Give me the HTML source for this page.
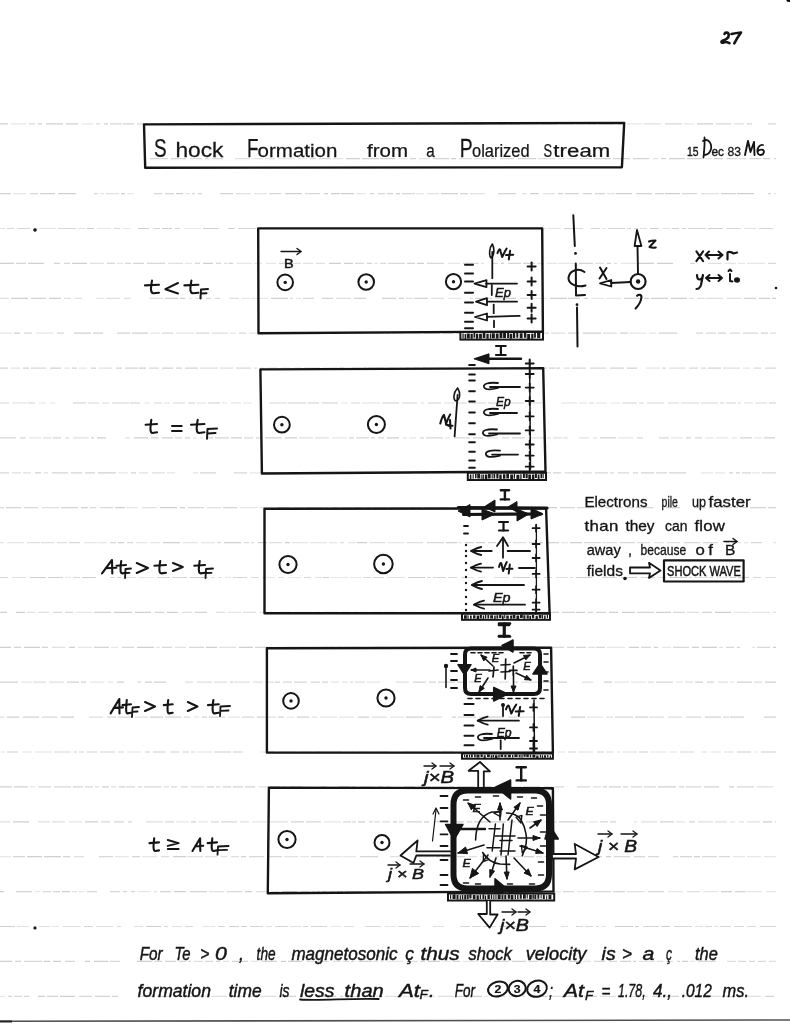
<!DOCTYPE html>
<html><head><meta charset="utf-8"><style>
html,body{margin:0;padding:0;background:#fff;overflow:hidden}
svg{display:block;will-change:transform}
</style></head><body>
<svg width="790" height="1023" viewBox="0 0 790 1023">
<rect width="790" height="1023" fill="#fff"/>
<g stroke-width="1.2" fill="none"><path d="M0,123.8H8M38,123.8H42M46,123.8H63M66,123.8H78M104,123.8H108M201,123.8H206M237,123.8H241M250,123.8H257M330,123.8H343M383,123.8H396M436,123.8H441M450,123.8H468M542,123.8H558M618,123.8H624M697,123.8H713M205,158.7H209M346,158.7H360M362,158.7H379M380,158.7H395M451,158.7H456M594,158.7H611M669,158.7H685M687,158.7H702M714,158.7H723M763,158.7H770M58,193.6H76M121,193.6H125M176,193.6H183M285,193.6H302M324,193.6H328M331,193.6H340M341,193.6H354M396,193.6H400M530,193.6H539M558,193.6H563M616,193.6H632M665,193.6H680M737,193.6H754M87,228.5H94M138,228.5H149M162,228.5H172M203,228.5H219M228,228.5H235M402,228.5H415M492,228.5H502M564,228.5H573M634,228.5H638M650,228.5H659M672,228.5H679M708,228.5H723M0,263.4H14M28,263.4H44M72,263.4H87M203,263.4H213M229,263.4H233M329,263.4H341M344,263.4H353M417,263.4H424M501,263.4H504M607,263.4H611M638,263.4H654M657,263.4H673M11,298.3H28M49,298.3H61M165,298.3H178M180,298.3H185M271,298.3H288M399,298.3H404M506,298.3H516M550,298.3H567M568,298.3H580M584,298.3H588M644,298.3H649M651,298.3H668M671,298.3H687M759,298.3H770M772,298.3H776M14,333.2H20M74,333.2H91M93,333.2H103M132,333.2H148M386,333.2H389M583,333.2H601M23,368.1H29M50,368.1H61M91,368.1H96M139,368.1H146M162,368.1H173M339,368.1H344M368,368.1H384M405,368.1H410M422,368.1H427M505,368.1H517M549,368.1H555M556,368.1H560M627,368.1H637M28,403.0H35M73,403.0H86M130,403.0H140M188,403.0H195M208,403.0H220M288,403.0H306M308,403.0H319M322,403.0H338M382,403.0H399M428,403.0H441M488,403.0H503M720,403.0H724M769,403.0H776M91,437.9H94M97,437.9H106M134,437.9H148M162,437.9H173M185,437.9H190M206,437.9H213M231,437.9H242M285,437.9H297M371,437.9H375M387,437.9H399M35,472.8H41M98,472.8H116M263,472.8H275M321,472.8H339M341,472.8H346M356,472.8H369M385,472.8H394M736,472.8H740M81,507.7H88M115,507.7H125M160,507.7H177M180,507.7H185M409,507.7H421M460,507.7H464M520,507.7H526M544,507.7H557M666,507.7H680M118,542.6H124M163,542.6H180M224,542.6H241M258,542.6H267M285,542.6H290M357,542.6H367M446,542.6H457M476,542.6H485M540,542.6H543M570,542.6H582M30,577.5H46M48,577.5H63M82,577.5H96M117,577.5H121M190,577.5H208M323,577.5H329M408,577.5H425M513,577.5H530M576,577.5H592M621,577.5H637M669,577.5H687M730,577.5H736M738,577.5H749M0,612.4H7M16,612.4H25M114,612.4H132M135,612.4H151M167,612.4H178M279,612.4H291M324,612.4H339M354,612.4H358M541,612.4H559M576,612.4H585M609,612.4H618M622,612.4H635M656,612.4H671M715,612.4H731M0,647.3H11M24,647.3H40M69,647.3H75M137,647.3H154M206,647.3H217M239,647.3H253M375,647.3H385M428,647.3H445M448,647.3H456M515,647.3H520M538,647.3H547M629,647.3H639M654,647.3H658M692,647.3H699M702,647.3H717M773,647.3H776M81,682.2H86M117,682.2H124M154,682.2H166M230,682.2H233M457,682.2H467M513,682.2H518M542,682.2H554M604,682.2H612M765,682.2H776M7,717.1H19M61,717.1H74M150,717.1H163M257,717.1H265M358,717.1H369M406,717.1H423M489,717.1H504M571,717.1H585M7,752.0H18M74,752.0H77M145,752.0H150M153,752.0H166M170,752.0H179M183,752.0H189M214,752.0H231M233,752.0H243M315,752.0H327M329,752.0H342M375,752.0H388M442,752.0H454M489,752.0H500M504,752.0H520M524,752.0H537M597,752.0H604M639,752.0H648M737,752.0H751M761,752.0H776M0,786.9H12M14,786.9H28M102,786.9H109M119,786.9H125M207,786.9H214M223,786.9H231M233,786.9H243M270,786.9H280M339,786.9H350M378,786.9H383M404,786.9H415M449,786.9H454M477,786.9H491M523,786.9H540M603,786.9H607M609,786.9H621M658,786.9H676M729,786.9H734M776,786.9H776M13,821.8H29M85,821.8H98M191,821.8H196M358,821.8H365M393,821.8H397M424,821.8H429M474,821.8H489M491,821.8H506M526,821.8H534M559,821.8H577M763,821.8H772M27,856.7H42M44,856.7H61M173,856.7H186M407,856.7H415M500,856.7H506M524,856.7H534M545,856.7H549M606,856.7H611M694,856.7H700M0,891.6H4M62,891.6H70M174,891.6H186M245,891.6H252M282,891.6H297M337,891.6H343M345,891.6H363M366,891.6H381M385,891.6H399M416,891.6H433M448,891.6H457M497,891.6H503M721,891.6H732M0,926.5H15M33,926.5H37M146,926.5H161M229,926.5H239M241,926.5H247M499,926.5H510M529,926.5H546M615,926.5H633M635,926.5H639M661,926.5H670M0,961.4H12M44,961.4H50M53,961.4H61M85,961.4H90M94,961.4H108M137,961.4H152M216,961.4H220M281,961.4H286M288,961.4H302M428,961.4H440M480,961.4H491M569,961.4H581M682,961.4H688M38,996.3H45M60,996.3H75M331,996.3H336M471,996.3H482M565,996.3H577M584,996.3H597" stroke="#cfcfcf"/><path d="M11,123.8H26M82,123.8H93M151,123.8H165M168,123.8H178M399,123.8H409M430,123.8H434M523,123.8H540M576,123.8H585M627,123.8H642M684,123.8H694M252,158.7H263M278,158.7H295M298,158.7H308M398,158.7H408M558,158.7H566M567,158.7H577M705,158.7H712M13,193.6H26M100,193.6H104M127,193.6H134M185,193.6H190M254,193.6H267M356,193.6H366M416,193.6H424M774,193.6H776M33,228.5H38M97,228.5H111M123,228.5H130M184,228.5H201M294,228.5H308M309,228.5H327M433,228.5H439M466,228.5H477M478,228.5H483M602,228.5H606M117,263.4H123M185,263.4H192M237,263.4H252M254,263.4H262M266,263.4H276M374,263.4H378M448,263.4H460M547,263.4H557M558,263.4H576M621,263.4H636M724,263.4H736M738,263.4H745M747,263.4H765M96,298.3H104M189,298.3H192M195,298.3H203M241,298.3H250M251,298.3H268M296,298.3H301M448,298.3H461M495,298.3H503M532,298.3H547M591,298.3H604M606,298.3H621M0,333.2H12M36,333.2H53M151,333.2H160M176,333.2H194M230,333.2H236M249,333.2H260M392,333.2H406M409,333.2H421M466,333.2H473M531,333.2H537M629,333.2H646M649,333.2H656M64,368.1H70M79,368.1H87M260,368.1H265M352,368.1H361M387,368.1H402M464,368.1H470M472,368.1H484M646,368.1H660M743,368.1H750M39,403.0H46M50,403.0H55M144,403.0H150M222,403.0H227M243,403.0H252M341,403.0H348M611,403.0H620M29,437.9H41M200,437.9H203M332,437.9H347M403,437.9H407M409,437.9H416M445,437.9H450M487,437.9H498M547,437.9H551M593,437.9H597M618,437.9H633M671,437.9H683M705,437.9H714M716,437.9H728M732,437.9H737M754,437.9H762M118,472.8H128M167,472.8H175M250,472.8H261M279,472.8H292M294,472.8H297M300,472.8H304M305,472.8H317M430,472.8H442M454,472.8H461M493,472.8H511M701,472.8H713M715,472.8H725M752,472.8H760M126,507.7H138M240,507.7H258M294,507.7H304M481,507.7H491M501,507.7H505M598,507.7H603M708,507.7H714M0,542.6H4M7,542.6H24M84,542.6H97M98,542.6H107M136,542.6H147M150,542.6H160M183,542.6H198M201,542.6H215M292,542.6H308M310,542.6H327M329,542.6H337M348,542.6H356M388,542.6H404M458,542.6H462M561,542.6H568M654,542.6H664M732,542.6H741M744,542.6H748M773,542.6H776M65,577.5H71M138,577.5H154M225,577.5H231M262,577.5H275M288,577.5H301M331,577.5H348M350,577.5H361M478,577.5H485M717,577.5H728M76,612.4H92M228,612.4H241M259,612.4H276M295,612.4H312M418,612.4H428M734,612.4H750M752,612.4H770M78,647.3H92M111,647.3H118M156,647.3H160M389,647.3H395M410,647.3H424M497,647.3H512M607,647.3H625M662,647.3H671M752,647.3H755M21,682.2H32M90,682.2H104M108,682.2H113M331,682.2H339M342,682.2H348M367,682.2H380M614,682.2H629M631,682.2H646M676,682.2H683M730,682.2H734M194,717.1H199M228,717.1H240M287,717.1H294M320,717.1H337M339,717.1H354M390,717.1H404M538,717.1H553M587,717.1H603M0,752.0H5M22,752.0H32M35,752.0H52M127,752.0H141M197,752.0H212M260,752.0H266M279,752.0H296M300,752.0H312M345,752.0H356M471,752.0H475M479,752.0H485M650,752.0H667M670,752.0H677M711,752.0H721M754,752.0H758M30,786.9H35M282,786.9H286M69,821.8H82M176,821.8H189M198,821.8H208M252,821.8H267M324,821.8H341M517,821.8H523M589,821.8H598M634,821.8H637M676,821.8H685M730,821.8H735M0,856.7H11M115,856.7H129M142,856.7H157M300,856.7H309M326,856.7H342M343,856.7H356M417,856.7H434M480,856.7H492M509,856.7H522M733,856.7H745M747,856.7H761M764,856.7H776M35,891.6H40M79,891.6H84M138,891.6H150M271,891.6H279M312,891.6H315M442,891.6H447M551,891.6H561M577,891.6H590M668,891.6H683M703,891.6H718M747,891.6H762M766,891.6H776M52,926.5H59M202,926.5H215M331,926.5H341M385,926.5H396M601,926.5H606M251,961.4H258M380,961.4H384M387,961.4H403M442,961.4H451M463,961.4H478M583,961.4H591M690,961.4H695M0,996.3H5M307,996.3H310M376,996.3H383M403,996.3H414M424,996.3H435M484,996.3H488M509,996.3H525M642,996.3H648M735,996.3H744" stroke="#e6e6e6"/><path d="M29,123.8H35M96,123.8H100M110,123.8H122M137,123.8H149M281,123.8H285M286,123.8H295M353,123.8H369M371,123.8H380M424,123.8H428M510,123.8H520M561,123.8H574M588,123.8H596M599,123.8H614M665,123.8H682M716,123.8H731M768,123.8H776M190,158.7H202M212,158.7H223M310,158.7H316M319,158.7H331M491,158.7H496M500,158.7H514M580,158.7H592M726,158.7H737M750,158.7H761M774,158.7H776M30,193.6H38M94,193.6H98M154,193.6H162M192,193.6H195M198,193.6H202M269,193.6H281M305,193.6H320M378,193.6H385M402,193.6H415M682,193.6H697M768,193.6H771M58,228.5H76M259,228.5H263M384,228.5H401M443,228.5H447M459,228.5H463M504,228.5H522M575,228.5H583M726,228.5H741M64,263.4H70M107,263.4H115M125,263.4H131M147,263.4H165M195,263.4H200M216,263.4H221M355,263.4H364M380,263.4H386M388,263.4H405M427,263.4H444M463,263.4H479M493,263.4H498M690,263.4H695M768,263.4H776M206,298.3H211M215,298.3H220M290,298.3H293M303,298.3H314M470,298.3H473M24,333.2H32M57,333.2H64M162,333.2H173M196,333.2H209M239,333.2H246M270,333.2H282M285,333.2H291M311,333.2H329M331,333.2H346M456,333.2H463M475,333.2H491M512,333.2H529M540,333.2H549M568,333.2H579M696,333.2H703M706,333.2H716M730,333.2H740M743,333.2H758M31,368.1H46M149,368.1H159M236,368.1H251M363,368.1H367M413,368.1H420M428,368.1H445M520,368.1H533M572,368.1H586M590,368.1H606M662,368.1H666M689,368.1H698M701,368.1H706M754,368.1H761M765,368.1H776M0,403.0H9M88,403.0H99M102,403.0H109M154,403.0H162M173,403.0H185M269,403.0H287M351,403.0H360M421,403.0H424M457,403.0H467M469,403.0H486M507,403.0H524M639,403.0H644M647,403.0H664M668,403.0H679M681,403.0H699M701,403.0H718M738,403.0H741M755,403.0H767M0,437.9H16M20,437.9H26M65,437.9H69M175,437.9H182M244,437.9H253M256,437.9H261M356,437.9H369M420,437.9H424M426,437.9H443M454,437.9H470M502,437.9H509M637,437.9H643M659,437.9H669M695,437.9H702M0,472.8H9M234,472.8H247M370,472.8H384M396,472.8H412M524,472.8H528M565,472.8H580M595,472.8H608M610,472.8H614M618,472.8H629M656,472.8H667M742,472.8H751M762,472.8H776M0,507.7H4M24,507.7H38M90,507.7H96M100,507.7H113M188,507.7H204M306,507.7H322M332,507.7H338M354,507.7H362M365,507.7H370M373,507.7H387M390,507.7H407M424,507.7H436M437,507.7H449M453,507.7H458M560,507.7H575M577,507.7H595M701,507.7H706M742,507.7H746M69,542.6H80M110,542.6H116M127,542.6H133M217,542.6H221M244,542.6H249M251,542.6H254M427,542.6H444M488,542.6H496M529,542.6H537M584,542.6H601M620,542.6H635M684,542.6H700M703,542.6H718M751,542.6H762M73,577.5H80M110,577.5H115M251,577.5H259M304,577.5H311M363,577.5H371M448,577.5H457M461,577.5H465M532,577.5H540M544,577.5H552M602,577.5H617M709,577.5H713M753,577.5H761M53,612.4H62M65,612.4H73M315,612.4H320M384,612.4H397M431,612.4H439M447,612.4H461M517,612.4H526M529,612.4H537M673,612.4H685M122,647.3H134M162,647.3H172M189,647.3H204M300,647.3H308M337,647.3H342M522,647.3H526M527,647.3H537M548,647.3H564M567,647.3H574M596,647.3H605M641,647.3H651M673,647.3H689M726,647.3H734M757,647.3H770M137,682.2H141M283,682.2H292M294,682.2H307M311,682.2H320M350,682.2H353M469,682.2H480M656,682.2H673M42,717.1H57M107,717.1H116M184,717.1H190M242,717.1H254M458,717.1H476M508,717.1H517M615,717.1H633M686,717.1H701M723,717.1H729M54,752.0H71M118,752.0H124M191,752.0H195M358,752.0H373M403,752.0H414M541,752.0H546M680,752.0H694M38,786.9H51M54,786.9H71M85,786.9H93M126,786.9H135M138,786.9H142M144,786.9H161M171,786.9H177M181,786.9H188M216,786.9H220M321,786.9H326M386,786.9H391M418,786.9H431M458,786.9H474M494,786.9H503M506,786.9H521M554,786.9H564M577,786.9H590M631,786.9H642M644,786.9H656M686,786.9H701M737,786.9H754M101,821.8H110M165,821.8H174M211,821.8H219M221,821.8H237M306,821.8H321M343,821.8H351M352,821.8H356M369,821.8H373M399,821.8H403M600,821.8H608M775,821.8H776M99,856.7H113M249,856.7H264M267,856.7H282M311,856.7H324M495,856.7H499M570,856.7H576M578,856.7H589M590,856.7H602M614,856.7H630M634,856.7H645M648,856.7H659M673,856.7H678M702,856.7H717M719,856.7H730M43,891.6H51M87,891.6H97M110,891.6H120M227,891.6H242M322,891.6H327M401,891.6H414M435,891.6H439M486,891.6H495M563,891.6H574M594,891.6H611M648,891.6H664M117,926.5H121M164,926.5H168M185,926.5H193M218,926.5H225M365,926.5H381M398,926.5H409M460,926.5H470M472,926.5H481M483,926.5H496M585,926.5H593M596,926.5H599M674,926.5H692M705,926.5H712M734,926.5H744M747,926.5H756M24,961.4H42M65,961.4H75M110,961.4H120M154,961.4H162M188,961.4H191M205,961.4H213M343,961.4H349M351,961.4H355M420,961.4H425M494,961.4H509M529,961.4H538M594,961.4H605M609,961.4H617M698,961.4H716M738,961.4H746M749,961.4H755M758,961.4H766M14,996.3H22M79,996.3H92M138,996.3H155M157,996.3H170M185,996.3H202M280,996.3H285M347,996.3H360M363,996.3H374M417,996.3H421M491,996.3H505" stroke="#d8d8d8"/><path d="M123,123.8H134M226,123.8H234M243,123.8H247M260,123.8H278M298,123.8H308M345,123.8H351M413,123.8H422M470,123.8H486M747,123.8H752M150,158.7H168M171,158.7H186M410,158.7H416M433,158.7H449M518,158.7H536M613,158.7H630M633,158.7H649M661,158.7H666M0,193.6H11M40,193.6H55M165,193.6H174M220,193.6H233M370,193.6H374M387,193.6H393M441,193.6H458M460,193.6H468M498,193.6H516M565,193.6H579M583,193.6H592M595,193.6H605M636,193.6H652M655,193.6H664M721,193.6H736M7,228.5H14M17,228.5H30M114,228.5H120M153,228.5H160M175,228.5H180M238,228.5H256M274,228.5H292M336,228.5H353M357,228.5H368M369,228.5H383M418,228.5H431M485,228.5H491M591,228.5H600M608,228.5H625M627,228.5H631M682,228.5H686M688,228.5H706M759,228.5H773M16,263.4H26M54,263.4H60M133,263.4H144M279,263.4H285M367,263.4H372M407,263.4H415M508,263.4H521M523,263.4H535M579,263.4H593M31,298.3H46M322,298.3H333M354,298.3H366M382,298.3H396M414,298.3H428M475,298.3H492M624,298.3H641M744,298.3H756M117,333.2H130M349,333.2H353M356,333.2H366M369,333.2H383M424,333.2H440M443,333.2H453M494,333.2H511M620,333.2H628M659,333.2H677M718,333.2H726M761,333.2H768M0,368.1H8M72,368.1H77M116,368.1H122M125,368.1H138M176,368.1H182M185,368.1H198M304,368.1H320M491,368.1H502M537,368.1H547M610,368.1H624M708,368.1H721M112,403.0H129M402,403.0H417M528,403.0H542M589,403.0H594M622,403.0H637M726,403.0H736M53,437.9H61M151,437.9H159M215,437.9H229M265,437.9H282M349,437.9H354M378,437.9H384M473,437.9H483M512,437.9H525M600,437.9H616M686,437.9H691M740,437.9H752M764,437.9H775M52,472.8H68M71,472.8H82M85,472.8H95M131,472.8H136M200,472.8H216M349,472.8H354M419,472.8H428M462,472.8H478M482,472.8H490M514,472.8H521M542,472.8H551M553,472.8H561M633,472.8H638M641,472.8H654M669,472.8H686M729,472.8H733M6,507.7H21M61,507.7H78M223,507.7H237M277,507.7H290M493,507.7H497M509,507.7H516M627,507.7H633M636,507.7H653M694,507.7H699M750,507.7H766M768,507.7H776M465,542.6H474M547,542.6H559M726,542.6H729M0,577.5H8M157,577.5H170M172,577.5H187M233,577.5H247M373,577.5H384M427,577.5H431M433,577.5H446M570,577.5H573M641,577.5H655M689,577.5H692M94,612.4H111M155,612.4H164M195,612.4H207M342,612.4H350M372,612.4H382M463,612.4H470M491,612.4H503M505,612.4H514M562,612.4H575M588,612.4H593M596,612.4H606M637,612.4H654M702,612.4H712M14,647.3H21M42,647.3H48M94,647.3H109M255,647.3H272M321,647.3H328M329,647.3H335M576,647.3H586M737,647.3H740M0,682.2H18M67,682.2H79M145,682.2H152M275,682.2H280M322,682.2H328M413,682.2H426M429,682.2H436M438,682.2H455M558,682.2H567M695,682.2H703M707,682.2H714M737,682.2H752M23,717.1H39M118,717.1H132M165,717.1H181M202,717.1H207M209,717.1H225M278,717.1H284M297,717.1H309M452,717.1H456M635,717.1H648M705,717.1H721M730,717.1H744M764,717.1H776M79,752.0H84M87,752.0H97M100,752.0H115M268,752.0H275M433,752.0H440M568,752.0H576M73,786.9H83M245,786.9H255M290,786.9H302M352,786.9H356M623,786.9H628M679,786.9H684M704,786.9H719M114,821.8H124M128,821.8H132M291,821.8H304M407,821.8H422M450,821.8H464M467,821.8H472M509,821.8H515M536,821.8H542M610,821.8H616M660,821.8H674M689,821.8H695M13,856.7H25M63,856.7H70M132,856.7H140M241,856.7H246M360,856.7H378M436,856.7H440M442,856.7H455M457,856.7H465M552,856.7H559M563,856.7H568M680,856.7H692M16,891.6H32M53,891.6H60M123,891.6H127M131,891.6H135M160,891.6H171M190,891.6H207M317,891.6H320M506,891.6H516M519,891.6H531M532,891.6H548M613,891.6H625M735,891.6H746M84,926.5H93M250,926.5H263M275,926.5H288M303,926.5H308M311,926.5H327M576,926.5H583M643,926.5H659M720,926.5H731M760,926.5H776M15,961.4H21M165,961.4H176M179,961.4H186M232,961.4H248M262,961.4H277M359,961.4H372M453,961.4H460M512,961.4H526M620,961.4H631M633,961.4H636M677,961.4H680M8,996.3H12M24,996.3H29M47,996.3H58M95,996.3H110M112,996.3H118M287,996.3H296M319,996.3H329M340,996.3H343M457,996.3H469M532,996.3H548M652,996.3H662M666,996.3H679M765,996.3H774" stroke="#d4d4d4"/><path d="M181,123.8H198M208,123.8H222M312,123.8H327M444,123.8H448M498,123.8H506M644,123.8H661M734,123.8H744M235,158.7H250M265,158.7H275M333,158.7H343M419,158.7H430M459,158.7H472M474,158.7H489M538,158.7H555M653,158.7H658M739,158.7H746M106,193.6H119M236,193.6H251M427,193.6H439M470,193.6H485M522,193.6H527M543,193.6H555M607,193.6H615M701,193.6H719M0,228.5H5M39,228.5H56M78,228.5H85M264,228.5H271M329,228.5H332M449,228.5H455M533,228.5H546M548,228.5H561M640,228.5H647M663,228.5H670M744,228.5H756M90,263.4H104M168,263.4H183M224,263.4H228M288,263.4H301M303,263.4H313M316,263.4H325M481,263.4H484M537,263.4H544M595,263.4H604M614,263.4H617M708,263.4H722M0,298.3H9M64,298.3H71M75,298.3H82M106,298.3H120M124,298.3H131M149,298.3H163M229,298.3H239M336,298.3H351M406,298.3H413M431,298.3H444M520,298.3H529M689,298.3H694M697,298.3H705M706,298.3H723M727,298.3H741M212,333.2H228M263,333.2H268M551,333.2H565M603,333.2H617M770,333.2H776M11,368.1H20M99,368.1H112M200,368.1H218M220,368.1H233M254,368.1H257M267,368.1H278M281,368.1H290M294,368.1H302M322,368.1H337M447,368.1H462M564,368.1H570M669,368.1H686M723,368.1H740M12,403.0H27M164,403.0H170M197,403.0H206M231,403.0H241M362,403.0H380M444,403.0H454M561,403.0H577M579,403.0H587M596,403.0H607M744,403.0H753M43,437.9H52M73,437.9H89M125,437.9H130M193,437.9H196M299,437.9H313M315,437.9H329M528,437.9H545M553,437.9H562M563,437.9H568M579,437.9H589M12,472.8H21M23,472.8H31M44,472.8H48M139,472.8H148M152,472.8H165M193,472.8H198M529,472.8H538M582,472.8H592M42,507.7H59M142,507.7H157M207,507.7H221M260,507.7H265M325,507.7H328M341,507.7H352M466,507.7H479M528,507.7H540M605,507.7H613M617,507.7H623M716,507.7H732M734,507.7H738M27,542.6H40M41,542.6H54M57,542.6H67M269,542.6H282M340,542.6H344M370,542.6H385M407,542.6H423M499,542.6H511M513,542.6H526M602,542.6H617M637,542.6H650M667,542.6H680M12,577.5H26M124,577.5H136M211,577.5H215M218,577.5H222M278,577.5H284M315,577.5H322M387,577.5H405M468,577.5H474M494,577.5H509M556,577.5H568M658,577.5H666M694,577.5H708M765,577.5H776M27,612.4H35M38,612.4H49M182,612.4H192M216,612.4H225M243,612.4H256M360,612.4H369M400,612.4H415M441,612.4H444M473,612.4H489M687,612.4H699M773,612.4H776M52,647.3H65M175,647.3H186M219,647.3H236M274,647.3H281M284,647.3H298M310,647.3H319M344,647.3H361M397,647.3H408M471,647.3H477M480,647.3H494M588,647.3H595M719,647.3H723M33,682.2H46M49,682.2H64M185,682.2H193M197,682.2H212M214,682.2H227M234,682.2H250M253,682.2H263M265,682.2H274M355,682.2H365M396,682.2H409M483,682.2H497M499,682.2H509M521,682.2H539M582,682.2H593M648,682.2H654M685,682.2H693M718,682.2H728M754,682.2H762M0,717.1H4M89,717.1H103M135,717.1H148M268,717.1H276M312,717.1H317M372,717.1H387M427,717.1H442M479,717.1H487M520,717.1H535M606,717.1H613M649,717.1H664M668,717.1H682M415,752.0H431M558,752.0H565M578,752.0H593M606,752.0H614M617,752.0H620M622,752.0H637M701,752.0H707M724,752.0H734M95,786.9H99M111,786.9H116M164,786.9H169M191,786.9H204M259,786.9H269M360,786.9H375M432,786.9H447M544,786.9H552M593,786.9H601M757,786.9H773M0,821.8H10M38,821.8H50M52,821.8H65M146,821.8H163M240,821.8H249M270,821.8H288M374,821.8H380M382,821.8H390M433,821.8H448M545,821.8H557M579,821.8H586M641,821.8H657M698,821.8H713M715,821.8H727M739,821.8H744M747,821.8H760M74,856.7H84M161,856.7H169M187,856.7H203M205,856.7H217M221,856.7H227M231,856.7H239M284,856.7H298M390,856.7H405M469,856.7H477M536,856.7H542M72,891.6H77M154,891.6H157M209,891.6H224M256,891.6H268M301,891.6H309M329,891.6H335M466,891.6H483M627,891.6H645M687,891.6H700M17,926.5H29M39,926.5H50M63,926.5H81M96,926.5H113M134,926.5H143M172,926.5H182M266,926.5H272M290,926.5H301M344,926.5H354M411,926.5H420M433,926.5H444M513,926.5H527M561,926.5H568M695,926.5H703M714,926.5H719M194,961.4H203M223,961.4H229M306,961.4H321M322,961.4H329M333,961.4H341M373,961.4H378M407,961.4H418M541,961.4H557M639,961.4H655M657,961.4H663M666,961.4H673M727,961.4H736M769,961.4H776M174,996.3H183M205,996.3H209M211,996.3H227M231,996.3H246M249,996.3H256M260,996.3H276M385,996.3H399M438,996.3H454M552,996.3H563M579,996.3H582M600,996.3H616M629,996.3H640M683,996.3H698M707,996.3H721M724,996.3H733M747,996.3H761" stroke="#e0e0e0"/></g>
<line x1="0" y1="1021.3" x2="790" y2="1020" stroke="#505050" stroke-width="1.6"/>
<line x1="0" y1="1021.5" x2="12" y2="1021.5" stroke="#222" stroke-width="2"/>
<ellipse cx="789" cy="0.5" rx="2.5" ry="1.6" fill="#111"/>
<circle cx="35.0" cy="230.0" r="1.8" fill="#151515"/>
<circle cx="35.0" cy="928.0" r="1.6" fill="#151515"/>
<circle cx="776.0" cy="288.0" r="1.3" fill="#151515"/>
<path d="M724.5,34 C725,32 728.5,32 728.8,35 C729,38 725,40 723,40.5 C720.5,41.5 721.5,43.5 723.5,42.5 C725.5,41.5 727,42 729.5,43.2" stroke="#151515" stroke-width="2.6" fill="none" stroke-linecap="round" stroke-linejoin="round" />
<path d="M731.5,34 C735,33.2 738,32.8 741,32.5 C738.5,36 736,40 734.3,43.3" stroke="#151515" stroke-width="2.6" fill="none" stroke-linecap="round" stroke-linejoin="round" />
<path d="M144,124.4 L624.2,122.9 L621.9,167.3 L145.2,167.7 Z" stroke="#151515" stroke-width="2.4" fill="none" stroke-linejoin="round"/>
<text transform="translate(153.9,157.2) scale(0.727,1)" font-size="26" font-family="Liberation Sans" font-style="normal" font-weight="normal" fill="#151515" stroke="#151515" stroke-width="0.25">S</text>
<text transform="translate(175.4,157.2) scale(1.084,1)" font-size="21" font-family="Liberation Sans" font-style="normal" font-weight="normal" fill="#151515" stroke="#151515" stroke-width="0.25">hock</text>
<text transform="translate(247.0,157.2) scale(0.724,1)" font-size="26" font-family="Liberation Sans" font-style="normal" font-weight="normal" fill="#151515" stroke="#151515" stroke-width="0.25">F</text>
<text transform="translate(257.5,157.2) scale(1.111,1)" font-size="18.5" font-family="Liberation Sans" font-style="normal" font-weight="normal" fill="#151515" stroke="#151515" stroke-width="0.25">ormation</text>
<text transform="translate(367.0,157.2) scale(1.108,1)" font-size="18.5" font-family="Liberation Sans" font-style="normal" font-weight="normal" fill="#151515" stroke="#151515" stroke-width="0.25">from</text>
<text transform="translate(426.2,157.2) scale(0.826,1)" font-size="18.5" font-family="Liberation Sans" font-style="normal" font-weight="normal" fill="#151515" stroke="#151515" stroke-width="0.25">a</text>
<text transform="translate(459.7,157.2) scale(0.744,1)" font-size="26" font-family="Liberation Sans" font-style="normal" font-weight="normal" fill="#151515" stroke="#151515" stroke-width="0.25">P</text>
<text transform="translate(472.0,157.2) scale(0.889,1)" font-size="18.5" font-family="Liberation Sans" font-style="normal" font-weight="normal" fill="#151515" stroke="#151515" stroke-width="0.25">olarized</text>
<text transform="translate(543.6,157.2) scale(0.679,1)" font-size="19" font-family="Liberation Sans" font-style="normal" font-weight="normal" fill="#151515" stroke="#151515" stroke-width="0.25">S</text>
<text transform="translate(553.3,157.2) scale(1.200,1)" font-size="18.5" font-family="Liberation Sans" font-style="normal" font-weight="normal" fill="#151515" textLength="47.5" lengthAdjust="spacing" stroke="#151515" stroke-width="0.25">tream</text>
<text transform="translate(687.0,155.5) scale(0.795,1)" font-size="13" font-family="Liberation Sans" font-style="normal" font-weight="normal" fill="#151515" stroke="#151515" stroke-width="0.4">15</text>
<path d="M704.5,137.5 C705,145 704,151 703.5,157.5 M703,141 C708,138 712,143 711,149 C710,153 707,155 704,155" stroke="#151515" stroke-width="1.8" fill="none" stroke-linecap="round" stroke-linejoin="round" />
<text transform="translate(711.5,155.5) scale(0.910,1)" font-size="13" font-family="Liberation Sans" font-style="normal" font-weight="normal" fill="#151515" stroke="#151515" stroke-width="0.4">ec</text>
<text transform="translate(727.5,155.5) scale(0.934,1)" font-size="13" font-family="Liberation Sans" font-style="normal" font-weight="normal" fill="#151515" stroke="#151515" stroke-width="0.3">83</text>
<path d="M745,155 L748,141 L750.5,152 L754,142 L754.5,155" stroke="#151515" stroke-width="1.9" fill="none" stroke-linecap="round" stroke-linejoin="round" />
<path d="M763,145 C759,144 757,149 757.5,152 C758,156 763,156 764,152 C764,149 760,149 758,151" stroke="#151515" stroke-width="1.8" fill="none" stroke-linecap="round" stroke-linejoin="round" />
<path d="M258.2,228.4 L542.2,228.4 L542.9,331.4 L258.5,333.2 Z" stroke="#151515" stroke-width="2.4" fill="none" stroke-linejoin="round"/>
<path d="M260.4,369.4 L543.2,368.2 L545.5,471.5 L261.9,473.5 Z" stroke="#151515" stroke-width="2.4" fill="none" stroke-linejoin="round"/>
<path d="M264.5,508.8 L546.1,508.4 L549.6,613.2 L264.5,613.2 Z" stroke="#151515" stroke-width="2.4" fill="none" stroke-linejoin="round"/>
<path d="M266.9,648.2 L551.1,647.6 L552.9,752.6 L266.9,752.6 Z" stroke="#151515" stroke-width="2.4" fill="none" stroke-linejoin="round"/>
<path d="M268.9,787.6 L552.9,788.2 L553.5,891.4 L267.8,893.2 Z" stroke="#151515" stroke-width="2.4" fill="none" stroke-linejoin="round"/>
<circle cx="285.2" cy="282.4" r="7.8" stroke="#151515" stroke-width="2" fill="none"/>
<circle cx="285.2" cy="282.4" r="1.7" fill="#151515"/>
<circle cx="366.2" cy="282.0" r="7.8" stroke="#151515" stroke-width="2" fill="none"/>
<circle cx="366.2" cy="282.0" r="1.7" fill="#151515"/>
<circle cx="453.5" cy="281.7" r="7.6" stroke="#151515" stroke-width="2" fill="none"/>
<circle cx="453.5" cy="281.7" r="1.7" fill="#151515"/>
<circle cx="281.9" cy="424.7" r="7.9" stroke="#151515" stroke-width="2" fill="none"/>
<circle cx="281.9" cy="424.7" r="1.7" fill="#151515"/>
<circle cx="376.4" cy="424.5" r="8.5" stroke="#151515" stroke-width="2" fill="none"/>
<circle cx="376.4" cy="424.5" r="1.7" fill="#151515"/>
<circle cx="288.0" cy="564.5" r="8.6" stroke="#151515" stroke-width="2" fill="none"/>
<circle cx="288.0" cy="564.5" r="1.7" fill="#151515"/>
<circle cx="383.4" cy="564.0" r="9.3" stroke="#151515" stroke-width="2" fill="none"/>
<circle cx="383.4" cy="564.0" r="1.7" fill="#151515"/>
<circle cx="291.0" cy="700.9" r="7.8" stroke="#151515" stroke-width="2" fill="none"/>
<circle cx="291.0" cy="700.9" r="1.7" fill="#151515"/>
<circle cx="386.0" cy="698.0" r="8.6" stroke="#151515" stroke-width="2" fill="none"/>
<circle cx="386.0" cy="698.0" r="1.7" fill="#151515"/>
<circle cx="287.0" cy="839.5" r="8.6" stroke="#151515" stroke-width="2" fill="none"/>
<circle cx="287.0" cy="839.5" r="1.7" fill="#151515"/>
<circle cx="382.0" cy="842.5" r="7.5" stroke="#151515" stroke-width="2" fill="none"/>
<circle cx="382.0" cy="842.5" r="1.7" fill="#151515"/>
<path d="M145.0,285.4 L159.0,284.7" stroke="#151515" stroke-width="2.1" fill="none" stroke-linecap="round" stroke-linejoin="round" />
<path d="M152.0,280.6 C150.9,287.0 149.9,293.3 153.4,293.3 L159.0,292.7" stroke="#151515" stroke-width="2.1" fill="none" stroke-linecap="round" stroke-linejoin="round" />
<path d="M178.0,283.0 L165.4,289.2 L178.0,293.5" stroke="#151515" stroke-width="2.0" fill="none" stroke-linecap="round" stroke-linejoin="round" />
<path d="M184.4,285.4 L198.4,284.7" stroke="#151515" stroke-width="2.1" fill="none" stroke-linecap="round" stroke-linejoin="round" />
<path d="M191.4,280.6 C190.3,287.0 189.3,293.3 192.8,293.3 L198.4,292.7" stroke="#151515" stroke-width="2.1" fill="none" stroke-linecap="round" stroke-linejoin="round" />
<path d="M200.5,298.4 L201.0,289.5 L208.0,289.0 M200.8,293.5 L206.5,293.2" stroke="#151515" stroke-width="2.0" fill="none" stroke-linecap="round" stroke-linejoin="round" />
<path d="M145.6,424.8 L157.0,424.0" stroke="#151515" stroke-width="2.1" fill="none" stroke-linecap="round" stroke-linejoin="round" />
<path d="M151.3,419.8 C150.4,426.4 149.6,433.0 152.4,433.0 L157.0,432.3" stroke="#151515" stroke-width="2.1" fill="none" stroke-linecap="round" stroke-linejoin="round" />
<path d="M172.0,426.0 L181.7,426.0 M172.0,431.0 L181.7,431.0" stroke="#151515" stroke-width="2.0" fill="none" stroke-linecap="round" stroke-linejoin="round" />
<path d="M191.0,424.8 L204.4,424.0" stroke="#151515" stroke-width="2.1" fill="none" stroke-linecap="round" stroke-linejoin="round" />
<path d="M197.7,419.8 C196.6,426.4 195.7,433.0 199.0,433.0 L204.4,432.3" stroke="#151515" stroke-width="2.1" fill="none" stroke-linecap="round" stroke-linejoin="round" />
<path d="M207.0,438.7 L207.5,429.0 L217.0,428.5 M207.3,433.4 L215.5,433.1" stroke="#151515" stroke-width="2.0" fill="none" stroke-linecap="round" stroke-linejoin="round" />
<path d="M102.0,573.4 L112.0,560.0 L112.3,573.4 M105.6,568.3 L116.3,567.8" stroke="#151515" stroke-width="2.1" fill="none" stroke-linecap="round" stroke-linejoin="round" />
<path d="M116.5,565.7 L126.0,565.0" stroke="#151515" stroke-width="2.1" fill="none" stroke-linecap="round" stroke-linejoin="round" />
<path d="M121.2,561.0 C120.5,567.2 119.8,573.4 122.2,573.4 L126.0,572.8" stroke="#151515" stroke-width="2.1" fill="none" stroke-linecap="round" stroke-linejoin="round" />
<path d="M125.0,578.0 L125.5,569.0 L131.0,568.5 M125.3,573.0 L129.5,572.8" stroke="#151515" stroke-width="1.8" fill="none" stroke-linecap="round" stroke-linejoin="round" />
<path d="M136.7,563.0 L148.0,568.0 L136.7,573.0" stroke="#151515" stroke-width="2.0" fill="none" stroke-linecap="round" stroke-linejoin="round" />
<path d="M154.4,565.7 L166.0,565.0" stroke="#151515" stroke-width="2.1" fill="none" stroke-linecap="round" stroke-linejoin="round" />
<path d="M160.2,561.0 C159.3,567.2 158.5,573.4 161.4,573.4 L166.0,572.8" stroke="#151515" stroke-width="2.1" fill="none" stroke-linecap="round" stroke-linejoin="round" />
<path d="M173.0,563.0 L182.8,567.0 L173.0,571.0" stroke="#151515" stroke-width="2.0" fill="none" stroke-linecap="round" stroke-linejoin="round" />
<path d="M194.3,565.7 L205.0,565.0" stroke="#151515" stroke-width="2.1" fill="none" stroke-linecap="round" stroke-linejoin="round" />
<path d="M199.7,561.0 C198.8,567.2 198.0,573.4 200.7,573.4 L205.0,572.8" stroke="#151515" stroke-width="2.1" fill="none" stroke-linecap="round" stroke-linejoin="round" />
<path d="M205.5,578.0 L206.0,569.0 L213.0,568.5 M205.8,573.0 L211.5,572.8" stroke="#151515" stroke-width="1.8" fill="none" stroke-linecap="round" stroke-linejoin="round" />
<path d="M110.6,713.4 L119.3,699.0 L119.5,713.4 M113.7,707.9 L123.0,707.4" stroke="#151515" stroke-width="2.1" fill="none" stroke-linecap="round" stroke-linejoin="round" />
<path d="M122.5,705.1 L131.0,704.3" stroke="#151515" stroke-width="2.1" fill="none" stroke-linecap="round" stroke-linejoin="round" />
<path d="M126.8,700.0 C126.1,706.7 125.5,713.4 127.6,713.4 L131.0,712.7" stroke="#151515" stroke-width="2.1" fill="none" stroke-linecap="round" stroke-linejoin="round" />
<path d="M132.0,717.0 L132.5,707.5 L139.0,707.0 M132.3,711.8 L137.5,711.5" stroke="#151515" stroke-width="1.8" fill="none" stroke-linecap="round" stroke-linejoin="round" />
<path d="M145.0,702.0 L155.0,706.5 L145.0,711.0" stroke="#151515" stroke-width="2.0" fill="none" stroke-linecap="round" stroke-linejoin="round" />
<path d="M163.8,705.1 L172.7,704.3" stroke="#151515" stroke-width="2.1" fill="none" stroke-linecap="round" stroke-linejoin="round" />
<path d="M168.2,700.0 C167.5,706.7 166.9,713.4 169.1,713.4 L172.7,712.7" stroke="#151515" stroke-width="2.1" fill="none" stroke-linecap="round" stroke-linejoin="round" />
<path d="M187.8,702.0 L197.5,706.5 L187.8,711.0" stroke="#151515" stroke-width="2.0" fill="none" stroke-linecap="round" stroke-linejoin="round" />
<path d="M208.0,705.1 L218.8,704.3" stroke="#151515" stroke-width="2.1" fill="none" stroke-linecap="round" stroke-linejoin="round" />
<path d="M213.4,700.0 C212.5,706.7 211.8,713.4 214.5,713.4 L218.8,712.7" stroke="#151515" stroke-width="2.1" fill="none" stroke-linecap="round" stroke-linejoin="round" />
<path d="M220.0,716.0 L220.5,706.5 L230.0,706.0 M220.3,710.8 L228.5,710.5" stroke="#151515" stroke-width="1.8" fill="none" stroke-linecap="round" stroke-linejoin="round" />
<path d="M149.5,843.1 L159.0,842.4" stroke="#151515" stroke-width="2.1" fill="none" stroke-linecap="round" stroke-linejoin="round" />
<path d="M154.2,838.3 C153.5,844.6 152.8,851.0 155.2,851.0 L159.0,850.4" stroke="#151515" stroke-width="2.1" fill="none" stroke-linecap="round" stroke-linejoin="round" />
<path d="M167.8,840.0 L178.6,843.1 L167.8,845.9 M167.8,849.0 L178.6,849.0" stroke="#151515" stroke-width="2.0" fill="none" stroke-linecap="round" stroke-linejoin="round" />
<path d="M192.5,851.0 L200.1,838.3 L200.3,851.0 M195.2,846.2 L203.3,845.7" stroke="#151515" stroke-width="2.1" fill="none" stroke-linecap="round" stroke-linejoin="round" />
<path d="M207.7,843.1 L217.0,842.4" stroke="#151515" stroke-width="2.1" fill="none" stroke-linecap="round" stroke-linejoin="round" />
<path d="M212.3,838.3 C211.6,844.6 211.0,851.0 213.3,851.0 L217.0,850.4" stroke="#151515" stroke-width="2.1" fill="none" stroke-linecap="round" stroke-linejoin="round" />
<path d="M217.5,854.7 L218.0,846.5 L228.6,846.0 M217.8,850.2 L227.1,849.9" stroke="#151515" stroke-width="1.8" fill="none" stroke-linecap="round" stroke-linejoin="round" />
<text transform="translate(284.1,268.0) scale(1.120,1)" font-size="13" font-family="Liberation Sans" font-style="normal" font-weight="normal" fill="#151515" stroke="#151515" stroke-width="0.5">B</text>
<line x1="281.0" y1="251.5" x2="301.0" y2="251.5" stroke="#151515" stroke-width="1.4" stroke-linecap="round"/>
<path d="M297,248.5 L301,251.5 L297,254.5" stroke="#151515" stroke-width="1.4" fill="none" stroke-linecap="round" stroke-linejoin="round" />
<line x1="465.0" y1="264.8" x2="473.0" y2="264.8" stroke="#151515" stroke-width="2" stroke-linecap="round"/>
<line x1="465.0" y1="273.4" x2="473.0" y2="273.4" stroke="#151515" stroke-width="2" stroke-linecap="round"/>
<line x1="465.0" y1="281.4" x2="473.0" y2="281.4" stroke="#151515" stroke-width="2" stroke-linecap="round"/>
<line x1="465.0" y1="292.7" x2="473.0" y2="292.7" stroke="#151515" stroke-width="2" stroke-linecap="round"/>
<line x1="465.0" y1="302.4" x2="473.0" y2="302.4" stroke="#151515" stroke-width="2" stroke-linecap="round"/>
<line x1="465.0" y1="312.7" x2="473.0" y2="312.7" stroke="#151515" stroke-width="2" stroke-linecap="round"/>
<line x1="465.0" y1="321.8" x2="473.0" y2="321.8" stroke="#151515" stroke-width="2" stroke-linecap="round"/>
<line x1="465.0" y1="328.3" x2="473.0" y2="328.3" stroke="#151515" stroke-width="2" stroke-linecap="round"/>
<line x1="492.3" y1="278.2" x2="492.3" y2="252.0" stroke="#151515" stroke-width="1.8" stroke-linecap="round"/>
<path d="M492.3,244 C489,248 489,256 491,258 C494,256 495,249 492.3,244 Z" stroke="#151515" stroke-width="1.6" fill="none" stroke-linecap="round" stroke-linejoin="round" />
<path d="M497.5,253.1 C498.8,249.1 499.9,248.0 500.6,251.4 L502.2,257.1 C503.8,253.7 505.0,250.8 506.6,248.6" stroke="#151515" stroke-width="2.0" fill="none" stroke-linecap="round" stroke-linejoin="round" />
<path d="M506.1,255.1 L513.2,254.8 M510.1,250.8 L508.8,259.4" stroke="#151515" stroke-width="2.0" fill="none" stroke-linecap="round" stroke-linejoin="round" />
<line x1="517.0" y1="283.6" x2="486.0" y2="283.6" stroke="#151515" stroke-width="1.8" stroke-linecap="round"/>
<path d="M474.5,283.6 L486.5,280.1 L486.5,287.1 Z" fill="none" stroke="#151515" stroke-width="1.8" stroke-linejoin="round"/>
<line x1="517.0" y1="301.7" x2="487.0" y2="301.7" stroke="#151515" stroke-width="1.8" stroke-linecap="round"/>
<path d="M476.0,301.7 L487.0,298.2 L487.0,305.2 Z" fill="none" stroke="#151515" stroke-width="1.8" stroke-linejoin="round"/>
<line x1="519.7" y1="315.9" x2="487.0" y2="316.8" stroke="#151515" stroke-width="1.8" stroke-linecap="round"/>
<path d="M475.0,317.0 L487.0,313.5 L487.0,320.5 Z" fill="none" stroke="#151515" stroke-width="1.8" stroke-linejoin="round"/>
<line x1="491.8" y1="285.0" x2="491.8" y2="295.0" stroke="#151515" stroke-width="1.8" stroke-linecap="round"/>
<text transform="translate(495.0,297.0) scale(1.006,1)" font-size="13" font-family="Liberation Sans" font-style="italic" font-weight="normal" fill="#151515" stroke="#151515" stroke-width="0.5">Ep</text>
<line x1="493.7" y1="304.6" x2="493.7" y2="313.2" stroke="#151515" stroke-width="1.8" stroke-linecap="round"/>
<line x1="494.0" y1="320.7" x2="494.0" y2="327.2" stroke="#151515" stroke-width="1.8" stroke-linecap="round"/>
<line x1="527.6" y1="266.4" x2="535.6" y2="266.4" stroke="#151515" stroke-width="2" stroke-linecap="round"/>
<line x1="531.6" y1="262.4" x2="531.6" y2="270.4" stroke="#151515" stroke-width="2" stroke-linecap="round"/>
<line x1="527.6" y1="281.4" x2="535.6" y2="281.4" stroke="#151515" stroke-width="2" stroke-linecap="round"/>
<line x1="531.6" y1="277.4" x2="531.6" y2="285.4" stroke="#151515" stroke-width="2" stroke-linecap="round"/>
<line x1="527.6" y1="294.9" x2="535.6" y2="294.9" stroke="#151515" stroke-width="2" stroke-linecap="round"/>
<line x1="531.6" y1="290.9" x2="531.6" y2="298.9" stroke="#151515" stroke-width="2" stroke-linecap="round"/>
<line x1="527.6" y1="307.8" x2="535.6" y2="307.8" stroke="#151515" stroke-width="2" stroke-linecap="round"/>
<line x1="531.6" y1="303.8" x2="531.6" y2="311.8" stroke="#151515" stroke-width="2" stroke-linecap="round"/>
<line x1="527.6" y1="318.6" x2="535.6" y2="318.6" stroke="#151515" stroke-width="2" stroke-linecap="round"/>
<line x1="531.6" y1="314.6" x2="531.6" y2="322.6" stroke="#151515" stroke-width="2" stroke-linecap="round"/>
<rect x="460.4" y="332" width="82.6" height="7.6" fill="#fff" stroke="#151515" stroke-width="2"/>
<path d="M462.4,336.1H463.7M464.6,336.4H466.0M466.7,336.0H469.8M470.5,336.3H472.8M473.5,335.3H475.3M476.0,336.2H478.3M479.1,336.2H481.9M482.7,335.4H485.4M486.4,336.3H488.7M489.8,336.0H491.2M491.8,335.7H494.9M495.8,336.1H498.6M499.5,335.4H502.4M503.1,335.6H506.0M507.1,335.5H509.1M509.7,336.2H512.2M512.9,335.4H515.2M516.3,335.3H518.3M519.7,335.7H522.6M523.9,335.3H526.4M527.2,336.4H530.1M531.2,336.3H533.5M534.1,335.3H535.9M537.1,335.4H540.3" stroke="#1a1a1a" stroke-width="5.0" fill="none"/>
<line x1="496.0" y1="346.0" x2="505.7" y2="346.0" stroke="#151515" stroke-width="2.2" stroke-linecap="round"/>
<line x1="496.0" y1="355.0" x2="505.7" y2="355.0" stroke="#151515" stroke-width="2.2" stroke-linecap="round"/>
<line x1="500.9" y1="346.0" x2="500.9" y2="355.0" stroke="#151515" stroke-width="2.2" stroke-linecap="round"/>
<line x1="521.0" y1="358.8" x2="482.0" y2="358.8" stroke="#151515" stroke-width="2.4" stroke-linecap="round"/>
<path d="M474.0,358.8 L489.0,353.8 L489.0,363.8 Z" fill="#151515" stroke="#151515" stroke-width="1" stroke-linejoin="round"/>
<line x1="573.3" y1="215.3" x2="574.8" y2="246.0" stroke="#151515" stroke-width="2" stroke-linecap="round"/>
<circle cx="575.5" cy="253.4" r="1.4" fill="#151515"/>
<path d="M575.8,263.6 L576,295.5 L585,295" stroke="#151515" stroke-width="2" fill="none" stroke-linecap="round" stroke-linejoin="round" />
<path d="M584.5,272 C579,268 570,269.5 568.5,277.5 C568,284 577,288 585.5,285.5" stroke="#151515" stroke-width="2" fill="none" stroke-linecap="round" stroke-linejoin="round" />
<circle cx="577.0" cy="304.7" r="1.4" fill="#151515"/>
<line x1="577.0" y1="307.6" x2="577.5" y2="346.5" stroke="#151515" stroke-width="2" stroke-linecap="round"/>
<circle cx="638.1" cy="281.5" r="7.5" stroke="#151515" stroke-width="2.1" fill="none"/>
<circle cx="638.1" cy="281.5" r="2.2" fill="#151515"/>
<line x1="638.0" y1="274.0" x2="637.5" y2="246.0" stroke="#151515" stroke-width="1.9" stroke-linecap="round"/>
<path d="M637,230 L634.6,246 L641.4,246 Z" stroke="#151515" stroke-width="1.8" fill="none" stroke-linecap="round" stroke-linejoin="round" />
<path d="M649,241.5 C651,240.5 653,240.5 655.5,240.5 L649.5,247 C651.5,247.8 653.5,247.8 655.8,247.5" stroke="#151515" stroke-width="2" fill="none" stroke-linecap="round" stroke-linejoin="round" />
<path d="M600,267.5 L606.5,279 M606.5,268 L599.5,278.5" stroke="#151515" stroke-width="2" fill="none" stroke-linecap="round" stroke-linejoin="round" />
<line x1="630.5" y1="282.0" x2="611.0" y2="283.0" stroke="#151515" stroke-width="1.9" stroke-linecap="round"/>
<path d="M600,283.3 L611.3,280 L611.3,286.5 Z" stroke="#151515" stroke-width="1.8" fill="none" stroke-linecap="round" stroke-linejoin="round" />
<path d="M637.1,295.8 C638.5,294.3 641.8,294.2 641.4,297.5 C641,302 638,306 635.6,308.5" stroke="#151515" stroke-width="2.1" fill="none" stroke-linecap="round" stroke-linejoin="round" />
<path d="M696.5,251.5 L703,261 M703,251.5 L696.5,261" stroke="#151515" stroke-width="2.2" fill="none" stroke-linecap="round" stroke-linejoin="round" />
<path d="M709,251.5 L705.5,255 L709,258.5 M705.5,255 L722,255 M718.5,251.5 L722.5,255 L718.5,258.5" stroke="#151515" stroke-width="2" fill="none" stroke-linecap="round" stroke-linejoin="round" />
<path d="M727.5,259.5 L727.5,252.5 C729,251.5 732,252 733.5,253.5 L737,252.5" stroke="#151515" stroke-width="2.2" fill="none" stroke-linecap="round" stroke-linejoin="round" />
<path d="M697,275 C697,281 702,281 703,275 L701,285 C700,288 698,289 696.5,289" stroke="#151515" stroke-width="2.2" fill="none" stroke-linecap="round" stroke-linejoin="round" />
<path d="M709.5,275 L706,278 L709.5,281 M706,278 L722,278 M718.5,275 L722,278 L718.5,281" stroke="#151515" stroke-width="2" fill="none" stroke-linecap="round" stroke-linejoin="round" />
<path d="M730,274 L730,281 L732.5,281.5 M728.5,271 L730,269.5 L731.5,271" stroke="#151515" stroke-width="2" fill="none" stroke-linecap="round" stroke-linejoin="round" />
<ellipse cx="737" cy="280" rx="3" ry="2.8" fill="#151515"/>
<line x1="469.2" y1="365.0" x2="474.8" y2="365.0" stroke="#151515" stroke-width="2" stroke-linecap="round"/>
<line x1="469.2" y1="374.6" x2="474.8" y2="374.6" stroke="#151515" stroke-width="2" stroke-linecap="round"/>
<line x1="469.2" y1="380.4" x2="474.8" y2="380.4" stroke="#151515" stroke-width="2" stroke-linecap="round"/>
<line x1="469.2" y1="391.3" x2="474.8" y2="391.3" stroke="#151515" stroke-width="2" stroke-linecap="round"/>
<line x1="469.2" y1="401.5" x2="474.8" y2="401.5" stroke="#151515" stroke-width="2" stroke-linecap="round"/>
<line x1="469.2" y1="412.4" x2="474.8" y2="412.4" stroke="#151515" stroke-width="2" stroke-linecap="round"/>
<line x1="469.2" y1="423.3" x2="474.8" y2="423.3" stroke="#151515" stroke-width="2" stroke-linecap="round"/>
<line x1="469.2" y1="434.2" x2="474.8" y2="434.2" stroke="#151515" stroke-width="2" stroke-linecap="round"/>
<line x1="469.2" y1="442.2" x2="474.8" y2="442.2" stroke="#151515" stroke-width="2" stroke-linecap="round"/>
<line x1="469.2" y1="451.7" x2="474.8" y2="451.7" stroke="#151515" stroke-width="2" stroke-linecap="round"/>
<line x1="469.2" y1="460.4" x2="474.8" y2="460.4" stroke="#151515" stroke-width="2" stroke-linecap="round"/>
<line x1="469.2" y1="467.7" x2="474.8" y2="467.7" stroke="#151515" stroke-width="2" stroke-linecap="round"/>
<line x1="529.6" y1="360.0" x2="530.5" y2="469.0" stroke="#151515" stroke-width="1.5" stroke-linecap="round"/>
<line x1="525.7" y1="363.5" x2="533.7" y2="363.5" stroke="#151515" stroke-width="1.8" stroke-linecap="round"/>
<line x1="529.7" y1="359.5" x2="529.7" y2="367.5" stroke="#151515" stroke-width="1.8" stroke-linecap="round"/>
<line x1="525.7" y1="374.0" x2="533.7" y2="374.0" stroke="#151515" stroke-width="1.8" stroke-linecap="round"/>
<line x1="529.7" y1="370.0" x2="529.7" y2="378.0" stroke="#151515" stroke-width="1.8" stroke-linecap="round"/>
<line x1="525.7" y1="387.6" x2="533.7" y2="387.6" stroke="#151515" stroke-width="1.8" stroke-linecap="round"/>
<line x1="529.7" y1="383.6" x2="529.7" y2="391.6" stroke="#151515" stroke-width="1.8" stroke-linecap="round"/>
<line x1="525.7" y1="401.0" x2="533.7" y2="401.0" stroke="#151515" stroke-width="1.8" stroke-linecap="round"/>
<line x1="529.7" y1="397.0" x2="529.7" y2="405.0" stroke="#151515" stroke-width="1.8" stroke-linecap="round"/>
<line x1="525.7" y1="416.3" x2="533.7" y2="416.3" stroke="#151515" stroke-width="1.8" stroke-linecap="round"/>
<line x1="529.7" y1="412.3" x2="529.7" y2="420.3" stroke="#151515" stroke-width="1.8" stroke-linecap="round"/>
<line x1="525.7" y1="430.4" x2="533.7" y2="430.4" stroke="#151515" stroke-width="1.8" stroke-linecap="round"/>
<line x1="529.7" y1="426.4" x2="529.7" y2="434.4" stroke="#151515" stroke-width="1.8" stroke-linecap="round"/>
<line x1="525.7" y1="444.5" x2="533.7" y2="444.5" stroke="#151515" stroke-width="1.8" stroke-linecap="round"/>
<line x1="529.7" y1="440.5" x2="529.7" y2="448.5" stroke="#151515" stroke-width="1.8" stroke-linecap="round"/>
<line x1="525.7" y1="455.6" x2="533.7" y2="455.6" stroke="#151515" stroke-width="1.8" stroke-linecap="round"/>
<line x1="529.7" y1="451.6" x2="529.7" y2="459.6" stroke="#151515" stroke-width="1.8" stroke-linecap="round"/>
<line x1="525.7" y1="466.7" x2="533.7" y2="466.7" stroke="#151515" stroke-width="1.8" stroke-linecap="round"/>
<line x1="529.7" y1="462.7" x2="529.7" y2="470.7" stroke="#151515" stroke-width="1.8" stroke-linecap="round"/>
<line x1="520.0" y1="387.0" x2="490.0" y2="387.0" stroke="#151515" stroke-width="1.8" stroke-linecap="round"/>
<path d="M498,383 C488,382 483,384 484,387 C485,390 490,390 498,388" stroke="#151515" stroke-width="1.8" fill="none" stroke-linecap="round" stroke-linejoin="round" />
<line x1="517.0" y1="413.0" x2="490.0" y2="413.0" stroke="#151515" stroke-width="1.8" stroke-linecap="round"/>
<path d="M498,409 C488,408 483,410 484,413 C485,416 490,416 498,414" stroke="#151515" stroke-width="1.8" fill="none" stroke-linecap="round" stroke-linejoin="round" />
<line x1="520.0" y1="433.5" x2="489.0" y2="433.5" stroke="#151515" stroke-width="1.8" stroke-linecap="round"/>
<path d="M497,429.5 C487,428.5 482,430.5 483,433.5 C484,436.5 489,436.5 497,434.5" stroke="#151515" stroke-width="1.8" fill="none" stroke-linecap="round" stroke-linejoin="round" />
<line x1="518.0" y1="454.6" x2="492.0" y2="454.6" stroke="#151515" stroke-width="1.8" stroke-linecap="round"/>
<path d="M500,450.6 C490,449.6 485,451.6 486,454.6 C487,457.6 492,457.6 500,455.6" stroke="#151515" stroke-width="1.8" fill="none" stroke-linecap="round" stroke-linejoin="round" />
<text transform="translate(496.0,406.0) scale(0.924,1)" font-size="13" font-family="Liberation Sans" font-style="italic" font-weight="normal" fill="#151515" stroke="#151515" stroke-width="0.5">Ep</text>
<line x1="454.6" y1="436.4" x2="457.6" y2="395.0" stroke="#151515" stroke-width="1.8" stroke-linecap="round"/>
<path d="M457.6,388 C453,393 453,400 456,401 C460,400 461,393 457.6,388 Z" stroke="#151515" stroke-width="1.6" fill="none" stroke-linecap="round" stroke-linejoin="round" />
<path d="M440.3,423.6 C441.5,419 442.5,415.5 443.9,414.9 C445,418 445.5,422 446.4,424.7 L450.2,426.3 M446,424 C447.5,420 449,416.5 450.2,414.5 M446,424.7 L452.5,425.7 M450,420 L450.5,428.5" stroke="#151515" stroke-width="2.1" fill="none" stroke-linecap="round" stroke-linejoin="round" />
<rect x="467.8" y="472.8" width="78.2" height="7.2" fill="#fff" stroke="#151515" stroke-width="2"/>
<path d="M469.8,476.8H471.4M472.6,476.5H473.7M475.0,476.0H476.5M477.2,476.1H480.0M480.7,476.9H481.7M482.4,476.9H483.9M484.8,476.8H487.4M488.0,476.3H490.7M491.6,476.1H492.7M493.5,476.3H495.2M496.3,476.1H498.5M499.3,476.8H501.7M502.9,476.5H505.4M506.3,476.1H509.0M510.2,476.8H513.2M513.9,476.1H515.0M516.4,477.0H519.4M520.3,476.6H521.6M522.9,475.8H524.9M525.6,476.0H527.7M528.3,476.8H531.1M532.0,476.9H534.4M535.0,475.8H536.9M537.7,476.7H539.5M540.5,475.9H542.0M542.5,475.9H543.7" stroke="#1a1a1a" stroke-width="4.6" fill="none"/>
<line x1="500.8" y1="490.3" x2="509.0" y2="490.3" stroke="#151515" stroke-width="2.4" stroke-linecap="round"/>
<line x1="500.8" y1="499.4" x2="509.0" y2="499.4" stroke="#151515" stroke-width="2.4" stroke-linecap="round"/>
<line x1="504.9" y1="490.3" x2="504.9" y2="499.4" stroke="#151515" stroke-width="2.4" stroke-linecap="round"/>
<line x1="458.3" y1="507.5" x2="547.0" y2="508.0" stroke="#151515" stroke-width="3.2" stroke-linecap="round"/>
<line x1="463.6" y1="514.5" x2="541.0" y2="514.0" stroke="#151515" stroke-width="3.2" stroke-linecap="round"/>
<path d="M458.0,511.0 L470.0,504.5 L470.0,517.0 Z" fill="#151515" stroke="#151515" stroke-width="1" stroke-linejoin="round"/>
<path d="M484.0,507.0 L495.0,500.0 L495.0,512.0 Z" fill="#151515" stroke="#151515" stroke-width="1" stroke-linejoin="round"/>
<path d="M508.0,507.0 L517.0,501.5 L517.0,512.0 Z" fill="#151515" stroke="#151515" stroke-width="1" stroke-linejoin="round"/>
<path d="M495.0,514.0 L482.0,509.0 L482.0,520.0 Z" fill="#151515" stroke="#151515" stroke-width="1" stroke-linejoin="round"/>
<path d="M529.0,514.0 L517.0,509.0 L517.0,521.0 Z" fill="#151515" stroke="#151515" stroke-width="1" stroke-linejoin="round"/>
<path d="M543.0,514.0 L531.0,508.0 L531.0,519.0 Z" fill="#151515" stroke="#151515" stroke-width="1" stroke-linejoin="round"/>
<line x1="499.0" y1="522.0" x2="508.0" y2="522.0" stroke="#151515" stroke-width="2.2" stroke-linecap="round"/>
<line x1="499.0" y1="530.5" x2="508.0" y2="530.5" stroke="#151515" stroke-width="2.2" stroke-linecap="round"/>
<line x1="503.5" y1="522.0" x2="503.5" y2="530.5" stroke="#151515" stroke-width="2.2" stroke-linecap="round"/>
<line x1="464.0" y1="526.0" x2="468.0" y2="526.0" stroke="#151515" stroke-width="1.8" stroke-linecap="round"/>
<line x1="464.0" y1="533.5" x2="468.0" y2="533.5" stroke="#151515" stroke-width="1.8" stroke-linecap="round"/>
<circle cx="466.0" cy="545.0" r="1.2" fill="#151515"/>
<circle cx="466.0" cy="551.0" r="1.2" fill="#151515"/>
<circle cx="466.0" cy="556.0" r="1.2" fill="#151515"/>
<circle cx="466.0" cy="563.0" r="1.2" fill="#151515"/>
<circle cx="466.0" cy="570.0" r="1.2" fill="#151515"/>
<circle cx="466.0" cy="577.0" r="1.2" fill="#151515"/>
<circle cx="466.0" cy="583.0" r="1.2" fill="#151515"/>
<circle cx="466.0" cy="590.0" r="1.2" fill="#151515"/>
<circle cx="466.0" cy="597.0" r="1.2" fill="#151515"/>
<circle cx="466.0" cy="604.0" r="1.2" fill="#151515"/>
<circle cx="466.0" cy="610.0" r="1.2" fill="#151515"/>
<line x1="536.4" y1="525.0" x2="536.4" y2="613.0" stroke="#151515" stroke-width="1.3" stroke-linecap="round"/>
<line x1="532.6" y1="528.2" x2="539.6" y2="528.2" stroke="#151515" stroke-width="1.8" stroke-linecap="round"/>
<line x1="536.1" y1="524.7" x2="536.1" y2="531.7" stroke="#151515" stroke-width="1.8" stroke-linecap="round"/>
<line x1="532.6" y1="544.0" x2="539.6" y2="544.0" stroke="#151515" stroke-width="1.8" stroke-linecap="round"/>
<line x1="536.1" y1="540.5" x2="536.1" y2="547.5" stroke="#151515" stroke-width="1.8" stroke-linecap="round"/>
<line x1="532.6" y1="558.0" x2="539.6" y2="558.0" stroke="#151515" stroke-width="1.8" stroke-linecap="round"/>
<line x1="536.1" y1="554.5" x2="536.1" y2="561.5" stroke="#151515" stroke-width="1.8" stroke-linecap="round"/>
<line x1="532.6" y1="573.9" x2="539.6" y2="573.9" stroke="#151515" stroke-width="1.8" stroke-linecap="round"/>
<line x1="536.1" y1="570.4" x2="536.1" y2="577.4" stroke="#151515" stroke-width="1.8" stroke-linecap="round"/>
<line x1="532.6" y1="589.7" x2="539.6" y2="589.7" stroke="#151515" stroke-width="1.8" stroke-linecap="round"/>
<line x1="536.1" y1="586.2" x2="536.1" y2="593.2" stroke="#151515" stroke-width="1.8" stroke-linecap="round"/>
<line x1="532.6" y1="602.6" x2="539.6" y2="602.6" stroke="#151515" stroke-width="1.8" stroke-linecap="round"/>
<line x1="536.1" y1="599.1" x2="536.1" y2="606.1" stroke="#151515" stroke-width="1.8" stroke-linecap="round"/>
<line x1="532.6" y1="609.7" x2="539.6" y2="609.7" stroke="#151515" stroke-width="1.8" stroke-linecap="round"/>
<line x1="536.1" y1="606.2" x2="536.1" y2="613.2" stroke="#151515" stroke-width="1.8" stroke-linecap="round"/>
<line x1="503.0" y1="557.7" x2="503.0" y2="538.0" stroke="#151515" stroke-width="1.8" stroke-linecap="round"/>
<path d="M497,546 L503,537.3 L508,546" stroke="#151515" stroke-width="1.8" fill="none" stroke-linecap="round" stroke-linejoin="round" />
<path d="M499.0,566.9 C500.1,562.7 501.0,561.5 501.7,565.1 L503.1,571.1 C504.4,567.5 505.5,564.5 506.8,562.1" stroke="#151515" stroke-width="2.0" fill="none" stroke-linecap="round" stroke-linejoin="round" />
<path d="M506.4,568.9 L512.5,568.7 M509.8,564.5 L508.7,573.5" stroke="#151515" stroke-width="2.0" fill="none" stroke-linecap="round" stroke-linejoin="round" />
<line x1="491.7" y1="551.0" x2="471.2" y2="551.0" stroke="#151515" stroke-width="1.8" stroke-linecap="round"/>
<path d="M481.2,547 C476.2,548 473.2,550 471.2,551 C473.2,552 476.2,554 481.2,555" stroke="#151515" stroke-width="1.8" fill="none" stroke-linecap="round" stroke-linejoin="round" />
<line x1="507.6" y1="551.0" x2="530.0" y2="551.0" stroke="#151515" stroke-width="1.8" stroke-linecap="round"/>
<line x1="493.0" y1="567.6" x2="471.0" y2="567.6" stroke="#151515" stroke-width="1.8" stroke-linecap="round"/>
<path d="M481,563.6 C476,564.6 473,566.6 471,567.6 C473,568.6 476,570.6 481,571.6" stroke="#151515" stroke-width="1.8" fill="none" stroke-linecap="round" stroke-linejoin="round" />
<line x1="519.0" y1="568.0" x2="535.0" y2="568.0" stroke="#151515" stroke-width="1.8" stroke-linecap="round"/>
<line x1="524.0" y1="585.0" x2="472.0" y2="585.0" stroke="#151515" stroke-width="1.8" stroke-linecap="round"/>
<path d="M482,581 C477,582 474,584 472,585 C474,586 477,588 482,589" stroke="#151515" stroke-width="1.8" fill="none" stroke-linecap="round" stroke-linejoin="round" />
<line x1="525.0" y1="604.7" x2="474.0" y2="604.7" stroke="#151515" stroke-width="1.8" stroke-linecap="round"/>
<path d="M484,600.7 C479,601.7 476,603.7 474,604.7 C476,605.7 479,607.7 484,608.7" stroke="#151515" stroke-width="1.8" fill="none" stroke-linecap="round" stroke-linejoin="round" />
<text transform="translate(493.0,601.7) scale(1.107,1)" font-size="13" font-family="Liberation Sans" font-style="italic" font-weight="normal" fill="#151515" stroke="#151515" stroke-width="0.5">Ep</text>
<rect x="462" y="613.8" width="88.0" height="6.0" fill="#fff" stroke="#151515" stroke-width="2"/>
<path d="M464.0,617.0H466.8M467.4,617.0H468.6M470.0,617.1H471.7M473.0,616.9H475.5M476.6,617.3H479.2M479.8,616.8H481.9M482.8,617.3H484.0M484.8,616.8H486.3M487.4,616.8H489.2M490.2,616.9H493.1M494.2,617.3H495.7M496.4,616.9H498.2M499.1,616.4H501.4M502.0,617.2H503.6M504.2,616.3H505.3M506.3,617.1H508.8M510.1,617.1H512.1M512.7,616.7H515.4M516.4,617.2H519.2M520.0,616.3H522.8M523.3,617.0H525.4M526.6,616.9H528.8M529.4,617.4H531.0M531.9,616.6H534.2M535.6,617.4H537.8M538.8,616.6H541.3M541.8,616.7H543.1M544.1,617.2H545.6M546.8,616.5H548.0" stroke="#1a1a1a" stroke-width="3.4" fill="none"/>
<line x1="499.0" y1="623.6" x2="510.0" y2="623.6" stroke="#151515" stroke-width="2.6" stroke-linecap="round"/>
<line x1="499.0" y1="636.5" x2="510.0" y2="636.5" stroke="#151515" stroke-width="2.6" stroke-linecap="round"/>
<line x1="504.5" y1="623.6" x2="504.5" y2="636.5" stroke="#151515" stroke-width="2.6" stroke-linecap="round"/>
<text transform="translate(584.4,507.2) scale(1.083,1)" font-size="14" font-family="Liberation Sans" font-style="normal" font-weight="normal" fill="#151515" stroke="#151515" stroke-width="0.3">Electrons</text>
<text transform="translate(661.6,507.2) scale(0.752,1)" font-size="14" font-family="Liberation Sans" font-style="normal" font-weight="normal" fill="#151515" stroke="#151515" stroke-width="0.3">pile</text>
<text transform="translate(692.0,507.2) scale(0.899,1)" font-size="14" font-family="Liberation Sans" font-style="normal" font-weight="normal" fill="#151515" stroke="#151515" stroke-width="0.3">up</text>
<text transform="translate(708.5,507.2) scale(1.200,1)" font-size="14" font-family="Liberation Sans" font-style="normal" font-weight="normal" fill="#151515" textLength="35.1" lengthAdjust="spacing" stroke="#151515" stroke-width="0.3">faster</text>
<text transform="translate(584.4,530.7) scale(1.200,1)" font-size="14" font-family="Liberation Sans" font-style="normal" font-weight="normal" fill="#151515" textLength="28.2" lengthAdjust="spacing" stroke="#151515" stroke-width="0.3">than</text>
<text transform="translate(625.4,530.7) scale(1.103,1)" font-size="14" font-family="Liberation Sans" font-style="normal" font-weight="normal" fill="#151515" stroke="#151515" stroke-width="0.3">they</text>
<text transform="translate(665.0,530.7) scale(0.992,1)" font-size="14" font-family="Liberation Sans" font-style="normal" font-weight="normal" fill="#151515" stroke="#151515" stroke-width="0.3">can</text>
<text transform="translate(694.4,530.7) scale(1.200,1)" font-size="14" font-family="Liberation Sans" font-style="normal" font-weight="normal" fill="#151515" textLength="25.5" lengthAdjust="spacing" stroke="#151515" stroke-width="0.3">flow</text>
<text transform="translate(586.7,554.6) scale(1.040,1)" font-size="14" font-family="Liberation Sans" font-style="normal" font-weight="normal" fill="#151515" stroke="#151515" stroke-width="0.3">away</text>
<text transform="translate(628.0,554.6) scale(1.028,1)" font-size="14" font-family="Liberation Sans" font-style="normal" font-weight="normal" fill="#151515" stroke="#151515" stroke-width="0.3">,</text>
<text transform="translate(640.6,554.6) scale(0.861,1)" font-size="14" font-family="Liberation Sans" font-style="normal" font-weight="normal" fill="#151515" stroke="#151515" stroke-width="0.3">because</text>
<text transform="translate(695.6,554.6) scale(1.200,1)" font-size="14" font-family="Liberation Sans" font-style="normal" font-weight="normal" fill="#151515" textLength="14.5" lengthAdjust="spacing" stroke="#151515" stroke-width="0.3">of</text>
<text transform="translate(725.0,554.6) scale(1.114,1)" font-size="14" font-family="Liberation Sans" font-style="normal" font-weight="normal" fill="#151515" stroke="#151515" stroke-width="0.3">B</text>
<line x1="724.0" y1="541.5" x2="737.0" y2="541.5" stroke="#151515" stroke-width="1.5" stroke-linecap="round"/>
<path d="M733,538.5 L737,541.5 L733,544.5" stroke="#151515" stroke-width="1.5" fill="none" stroke-linecap="round" stroke-linejoin="round" />
<text transform="translate(586.7,575.7) scale(1.111,1)" font-size="14" font-family="Liberation Sans" font-style="normal" font-weight="normal" fill="#151515" stroke="#151515" stroke-width="0.3">fields</text>
<circle cx="625.0" cy="578.5" r="1.8" fill="#151515"/>
<path d="M630.0,567.5 L650.0,567.5 L649.0,562.8 L660.5,570.5 L649.0,578.0 L650.0,573.3 L630.0,573.3 L630.0,567.5" fill="#fff" stroke="#151515" stroke-width="1.8" stroke-linejoin="round" stroke-linecap="round"/>
<path d="M664,560.4 L743.6,560.4 L743.6,581.5 L664,581.5 Z" stroke="#151515" stroke-width="2.2" fill="none" stroke-linejoin="round"/>
<text transform="translate(667.0,576.0) scale(0.765,1)" font-size="14.5" font-family="Liberation Sans" font-style="normal" font-weight="normal" fill="#151515" stroke="#151515" stroke-width="0.5">SHOCK WAVE</text>
<line x1="499.0" y1="625.0" x2="509.0" y2="625.0" stroke="#151515" stroke-width="2.6" stroke-linecap="round"/>
<line x1="499.0" y1="636.0" x2="509.0" y2="636.0" stroke="#151515" stroke-width="2.6" stroke-linecap="round"/>
<line x1="504.0" y1="625.0" x2="504.0" y2="636.0" stroke="#151515" stroke-width="2.6" stroke-linecap="round"/>
<path d="M471,648.5 L534,648.5 Q540,648.5 540,654.5 L540,688 Q540,694 534,694 L471,694 Q465,694 465,688 L465,654.5 Q465,648.5 471,648.5 Z" stroke="#151515" stroke-width="4" fill="none" stroke-linecap="round" stroke-linejoin="round" />
<path d="M502.0,645.5 L513.0,640.0 L513.0,652.0 Z" fill="#151515" stroke="#151515" stroke-width="1.5" stroke-linejoin="round"/>
<path d="M464.5,674.8 L458.0,664.7 L471.0,664.7 Z" fill="#151515" stroke="#151515" stroke-width="1.5" stroke-linejoin="round"/>
<path d="M507.6,694.0 L493.7,687.5 L493.7,701.0 Z" fill="#151515" stroke="#151515" stroke-width="1.5" stroke-linejoin="round"/>
<path d="M540.0,663.4 L533.0,674.0 L547.0,674.0 Z" fill="#151515" stroke="#151515" stroke-width="1.5" stroke-linejoin="round"/>
<line x1="471.0" y1="652.7" x2="475.0" y2="652.7" stroke="#151515" stroke-width="1.6" stroke-linecap="round"/>
<line x1="478.0" y1="652.7" x2="482.0" y2="652.7" stroke="#151515" stroke-width="1.6" stroke-linecap="round"/>
<line x1="485.0" y1="652.7" x2="489.0" y2="652.7" stroke="#151515" stroke-width="1.6" stroke-linecap="round"/>
<line x1="492.0" y1="652.7" x2="496.0" y2="652.7" stroke="#151515" stroke-width="1.6" stroke-linecap="round"/>
<line x1="499.0" y1="652.7" x2="503.0" y2="652.7" stroke="#151515" stroke-width="1.6" stroke-linecap="round"/>
<line x1="520.0" y1="652.7" x2="524.0" y2="652.7" stroke="#151515" stroke-width="1.6" stroke-linecap="round"/>
<line x1="527.0" y1="652.7" x2="531.0" y2="652.7" stroke="#151515" stroke-width="1.6" stroke-linecap="round"/>
<line x1="468.0" y1="698.5" x2="472.0" y2="698.5" stroke="#151515" stroke-width="1.6" stroke-linecap="round"/>
<line x1="476.0" y1="698.5" x2="480.0" y2="698.5" stroke="#151515" stroke-width="1.6" stroke-linecap="round"/>
<line x1="484.0" y1="698.5" x2="488.0" y2="698.5" stroke="#151515" stroke-width="1.6" stroke-linecap="round"/>
<line x1="492.0" y1="698.5" x2="496.0" y2="698.5" stroke="#151515" stroke-width="1.6" stroke-linecap="round"/>
<line x1="500.0" y1="698.5" x2="504.0" y2="698.5" stroke="#151515" stroke-width="1.6" stroke-linecap="round"/>
<line x1="508.0" y1="698.5" x2="512.0" y2="698.5" stroke="#151515" stroke-width="1.6" stroke-linecap="round"/>
<line x1="516.0" y1="698.5" x2="520.0" y2="698.5" stroke="#151515" stroke-width="1.6" stroke-linecap="round"/>
<line x1="524.0" y1="698.5" x2="528.0" y2="698.5" stroke="#151515" stroke-width="1.6" stroke-linecap="round"/>
<line x1="532.0" y1="698.5" x2="536.0" y2="698.5" stroke="#151515" stroke-width="1.6" stroke-linecap="round"/>
<line x1="540.0" y1="698.5" x2="544.0" y2="698.5" stroke="#151515" stroke-width="1.6" stroke-linecap="round"/>
<line x1="451.0" y1="654.0" x2="457.0" y2="654.0" stroke="#151515" stroke-width="1.8" stroke-linecap="round"/>
<line x1="451.0" y1="661.0" x2="457.0" y2="661.0" stroke="#151515" stroke-width="1.8" stroke-linecap="round"/>
<line x1="451.0" y1="671.0" x2="457.0" y2="671.0" stroke="#151515" stroke-width="1.8" stroke-linecap="round"/>
<line x1="451.0" y1="680.0" x2="457.0" y2="680.0" stroke="#151515" stroke-width="1.8" stroke-linecap="round"/>
<line x1="451.0" y1="688.0" x2="457.0" y2="688.0" stroke="#151515" stroke-width="1.8" stroke-linecap="round"/>
<line x1="544.0" y1="654.0" x2="548.0" y2="654.0" stroke="#151515" stroke-width="1.6" stroke-linecap="round"/>
<line x1="544.0" y1="662.0" x2="548.0" y2="662.0" stroke="#151515" stroke-width="1.6" stroke-linecap="round"/>
<line x1="544.0" y1="672.0" x2="548.0" y2="672.0" stroke="#151515" stroke-width="1.6" stroke-linecap="round"/>
<line x1="544.0" y1="681.0" x2="548.0" y2="681.0" stroke="#151515" stroke-width="1.6" stroke-linecap="round"/>
<line x1="544.0" y1="690.0" x2="548.0" y2="690.0" stroke="#151515" stroke-width="1.6" stroke-linecap="round"/>
<text transform="translate(491.8,662.0) scale(1.120,1)" font-size="10" font-family="Liberation Sans" font-style="italic" font-weight="normal" fill="#151515" stroke="#151515" stroke-width="0.5">E</text>
<text transform="translate(523.3,670.0) scale(1.120,1)" font-size="10" font-family="Liberation Sans" font-style="italic" font-weight="normal" fill="#151515" stroke="#151515" stroke-width="0.5">E</text>
<text transform="translate(474.3,682.0) scale(1.120,1)" font-size="10" font-family="Liberation Sans" font-style="italic" font-weight="normal" fill="#151515" stroke="#151515" stroke-width="0.5">E</text>
<line x1="494.0" y1="667.0" x2="493.0" y2="677.0" stroke="#151515" stroke-width="1.7" stroke-linecap="round"/>
<line x1="489.0" y1="671.0" x2="498.0" y2="670.0" stroke="#151515" stroke-width="1.7" stroke-linecap="round"/>
<line x1="505.7" y1="659.0" x2="505.2" y2="679.0" stroke="#151515" stroke-width="1.7" stroke-linecap="round"/>
<line x1="501.0" y1="665.0" x2="510.0" y2="664.5" stroke="#151515" stroke-width="1.7" stroke-linecap="round"/>
<line x1="501.0" y1="672.0" x2="510.0" y2="671.5" stroke="#151515" stroke-width="1.7" stroke-linecap="round"/>
<line x1="513.3" y1="666.0" x2="513.3" y2="675.0" stroke="#151515" stroke-width="1.7" stroke-linecap="round"/>
<line x1="509.5" y1="670.4" x2="517.0" y2="670.4" stroke="#151515" stroke-width="1.7" stroke-linecap="round"/>
<line x1="493.0" y1="666.0" x2="481.0" y2="655.0" stroke="#151515" stroke-width="1.6" stroke-linecap="round"/>
<path d="M481.0,655.0 L487.1,657.2 L483.7,660.9 Z" fill="#151515" stroke="#151515" stroke-width="1" stroke-linejoin="round"/>
<line x1="490.0" y1="670.0" x2="471.0" y2="670.0" stroke="#151515" stroke-width="1.4" stroke-linecap="round"/>
<path d="M471.0,670.0 L476.0,668.0 L476.0,672.0 Z" fill="#151515" stroke="#151515" stroke-width="1" stroke-linejoin="round"/>
<line x1="488.0" y1="678.0" x2="479.0" y2="692.0" stroke="#151515" stroke-width="1.6" stroke-linecap="round"/>
<path d="M479.0,692.0 L480.1,685.6 L484.3,688.3 Z" fill="#151515" stroke="#151515" stroke-width="1" stroke-linejoin="round"/>
<line x1="513.5" y1="674.0" x2="513.5" y2="692.0" stroke="#151515" stroke-width="1.6" stroke-linecap="round"/>
<path d="M513.5,692.0 L511.0,686.0 L516.0,686.0 Z" fill="#151515" stroke="#151515" stroke-width="1" stroke-linejoin="round"/>
<line x1="516.0" y1="673.0" x2="531.0" y2="680.0" stroke="#151515" stroke-width="1.6" stroke-linecap="round"/>
<path d="M531.0,680.0 L524.5,679.7 L526.6,675.2 Z" fill="#151515" stroke="#151515" stroke-width="1" stroke-linejoin="round"/>
<line x1="514.0" y1="663.0" x2="530.0" y2="655.0" stroke="#151515" stroke-width="1.6" stroke-linecap="round"/>
<path d="M530.0,655.0 L525.8,659.9 L523.5,655.4 Z" fill="#151515" stroke="#151515" stroke-width="1" stroke-linejoin="round"/>
<line x1="446.0" y1="687.5" x2="446.0" y2="667.0" stroke="#151515" stroke-width="1.6" stroke-linecap="round"/>
<circle cx="446.0" cy="666.0" r="2.2" fill="#151515"/>
<line x1="464.5" y1="704.0" x2="473.5" y2="704.0" stroke="#151515" stroke-width="2" stroke-linecap="round"/>
<line x1="464.5" y1="715.0" x2="473.5" y2="715.0" stroke="#151515" stroke-width="2" stroke-linecap="round"/>
<line x1="464.5" y1="725.4" x2="473.5" y2="725.4" stroke="#151515" stroke-width="2" stroke-linecap="round"/>
<line x1="464.5" y1="735.7" x2="473.5" y2="735.7" stroke="#151515" stroke-width="2" stroke-linecap="round"/>
<line x1="464.5" y1="745.2" x2="473.5" y2="745.2" stroke="#151515" stroke-width="2" stroke-linecap="round"/>
<line x1="503.0" y1="716.0" x2="503.0" y2="706.0" stroke="#151515" stroke-width="1.8" stroke-linecap="round"/>
<circle cx="503.0" cy="705.0" r="2" fill="#151515"/>
<path d="M506.0,709.4 C507.4,705.2 508.6,704.0 509.5,707.6 L511.3,713.6 C513.0,710.0 514.4,707.0 516.2,704.6" stroke="#151515" stroke-width="2.0" fill="none" stroke-linecap="round" stroke-linejoin="round" />
<path d="M515.7,711.4 L523.6,711.2 M520.1,707.0 L518.7,716.0" stroke="#151515" stroke-width="2.0" fill="none" stroke-linecap="round" stroke-linejoin="round" />
<line x1="518.9" y1="720.7" x2="477.7" y2="720.7" stroke="#151515" stroke-width="1.8" stroke-linecap="round"/>
<path d="M487.7,716.7 C482.7,717.7 479.7,719.7 477.7,720.7 C479.7,721.7 482.7,723.7 487.7,724.7" stroke="#151515" stroke-width="1.8" fill="none" stroke-linecap="round" stroke-linejoin="round" />
<text transform="translate(496.7,736.5) scale(1.022,1)" font-size="12" font-family="Liberation Sans" font-style="italic" font-weight="normal" fill="#151515" stroke="#151515" stroke-width="0.5">Ep</text>
<line x1="519.0" y1="738.0" x2="484.0" y2="738.0" stroke="#151515" stroke-width="1.8" stroke-linecap="round"/>
<path d="M492,734 C482,733 477,735 478,738 C479,741 484,741 492,739" stroke="#151515" stroke-width="1.8" fill="none" stroke-linecap="round" stroke-linejoin="round" />
<line x1="500.7" y1="740.5" x2="500.7" y2="749.0" stroke="#151515" stroke-width="1.8" stroke-linecap="round"/>
<line x1="534.0" y1="700.0" x2="534.5" y2="752.0" stroke="#151515" stroke-width="1.5" stroke-linecap="round"/>
<line x1="530.0" y1="707.4" x2="537.0" y2="707.4" stroke="#151515" stroke-width="1.8" stroke-linecap="round"/>
<line x1="533.5" y1="703.9" x2="533.5" y2="710.9" stroke="#151515" stroke-width="1.8" stroke-linecap="round"/>
<line x1="530.0" y1="727.4" x2="537.0" y2="727.4" stroke="#151515" stroke-width="1.8" stroke-linecap="round"/>
<line x1="533.5" y1="723.9" x2="533.5" y2="730.9" stroke="#151515" stroke-width="1.8" stroke-linecap="round"/>
<line x1="530.0" y1="741.0" x2="537.0" y2="741.0" stroke="#151515" stroke-width="1.8" stroke-linecap="round"/>
<line x1="533.5" y1="737.5" x2="533.5" y2="744.5" stroke="#151515" stroke-width="1.8" stroke-linecap="round"/>
<line x1="530.0" y1="748.5" x2="537.0" y2="748.5" stroke="#151515" stroke-width="1.8" stroke-linecap="round"/>
<line x1="533.5" y1="745.0" x2="533.5" y2="752.0" stroke="#151515" stroke-width="1.8" stroke-linecap="round"/>
<rect x="462" y="753.5" width="90.9" height="5.2" fill="#fff" stroke="#151515" stroke-width="2"/>
<path d="M464.0,756.0H465.0M465.8,756.3H468.1M469.0,756.1H470.2M471.0,755.9H472.8M474.1,755.9H475.7M476.4,756.1H479.5M480.5,755.8H482.8M483.7,756.6H485.7M487.0,755.7H489.8M490.7,756.5H492.0M492.5,756.3H494.1M494.9,756.6H497.5M498.3,756.3H499.7M500.5,755.7H503.2M504.3,756.0H506.5M507.8,756.0H510.9M512.0,756.3H513.4M514.4,755.8H517.6M518.7,756.0H520.6M521.4,756.1H522.7M523.5,755.5H525.7M526.3,755.6H528.8M529.8,755.9H531.2M532.4,756.1H535.4M536.2,756.7H538.5M539.8,756.2H541.2M541.9,756.6H543.1M544.0,756.5H546.1M547.1,756.2H548.4M549.7,756.7H550.9" stroke="#1a1a1a" stroke-width="2.6" fill="none"/>
<path d="M467.5,790.5 L535,790.5 Q549,790.5 549,804.5 L549,874.5 Q549,888.5 535,888.5 L467.5,888.5 Q453.5,888.5 453.5,874.5 L453.5,804.5 Q453.5,790.5 467.5,790.5 Z" stroke="#151515" stroke-width="6" fill="none" stroke-linecap="round" stroke-linejoin="round" />
<path d="M495.8,787.0 L510.6,780.0 L510.6,799.0 Z" fill="#151515" stroke="#151515" stroke-width="1.5" stroke-linejoin="round"/>
<path d="M454.0,840.0 L445.6,824.4 L463.0,824.4 Z" fill="#151515" stroke="#151515" stroke-width="1.5" stroke-linejoin="round"/>
<path d="M507.3,889.0 L495.0,878.7 L495.0,897.0 Z" fill="#151515" stroke="#151515" stroke-width="1.5" stroke-linejoin="round"/>
<path d="M549.0,824.4 L545.0,839.0 L558.3,839.0 Z" fill="#151515" stroke="#151515" stroke-width="1.5" stroke-linejoin="round"/>
<line x1="548.0" y1="788.0" x2="553.0" y2="788.8" stroke="#151515" stroke-width="2" stroke-linecap="round"/>
<path d="M478.2,786.5 L478.2,770.8 L468.6,770.8 L480.0,762.0 L489.9,771.3 L483.8,771.3 L483.8,786.5" fill="#fff" stroke="#151515" stroke-width="1.8" stroke-linejoin="round" stroke-linecap="round"/>
<line x1="516.7" y1="767.2" x2="525.8" y2="767.2" stroke="#151515" stroke-width="2.4" stroke-linecap="round"/>
<line x1="516.7" y1="780.4" x2="525.8" y2="780.4" stroke="#151515" stroke-width="2.4" stroke-linecap="round"/>
<line x1="521.2" y1="767.2" x2="521.2" y2="780.4" stroke="#151515" stroke-width="2.4" stroke-linecap="round"/>
<text transform="translate(424.0,783.0) scale(1.198,1)" font-size="17" font-family="Liberation Sans" font-style="italic" font-weight="normal" fill="#151515" stroke="#151515" stroke-width="0.5">j&#215;B</text>
<line x1="424.0" y1="766.0" x2="436.0" y2="766.0" stroke="#151515" stroke-width="1.3" stroke-linecap="round"/>
<path d="M432,763 L436,766 L432,769" stroke="#151515" stroke-width="1.3" fill="none" stroke-linecap="round" stroke-linejoin="round" />
<line x1="440.0" y1="766.0" x2="454.0" y2="766.0" stroke="#151515" stroke-width="1.3" stroke-linecap="round"/>
<path d="M450,763 L454,766 L450,769" stroke="#151515" stroke-width="1.3" fill="none" stroke-linecap="round" stroke-linejoin="round" />
<path d="M450.0,851.4 L416.3,851.4 L417.6,840.5 L400.5,855.5 L413.5,863.0 L416.3,855.5 L450.0,855.5" fill="#fff" stroke="#151515" stroke-width="1.8" stroke-linejoin="round" stroke-linecap="round"/>
<text transform="translate(388.0,879.0) scale(1.200,1)" font-size="15" font-family="Liberation Sans" font-style="italic" font-weight="normal" fill="#151515" textLength="30.0" lengthAdjust="spacing" stroke="#151515" stroke-width="0.5">j&#215;B</text>
<line x1="388.0" y1="865.0" x2="400.0" y2="865.0" stroke="#151515" stroke-width="1.3" stroke-linecap="round"/>
<path d="M396,862 L400,865 L396,868" stroke="#151515" stroke-width="1.3" fill="none" stroke-linecap="round" stroke-linejoin="round" />
<line x1="410.0" y1="864.0" x2="424.0" y2="864.0" stroke="#151515" stroke-width="1.3" stroke-linecap="round"/>
<path d="M420,861 L424,864 L420,867" stroke="#151515" stroke-width="1.3" fill="none" stroke-linecap="round" stroke-linejoin="round" />
<path d="M553.0,854.0 L576.0,854.0 L574.7,844.0 L598.6,857.0 L574.7,869.4 L576.0,858.5 L553.0,858.5" fill="#fff" stroke="#151515" stroke-width="1.8" stroke-linejoin="round" stroke-linecap="round"/>
<text transform="translate(598.0,852.0) scale(1.200,1)" font-size="16" font-family="Liberation Sans" font-style="italic" font-weight="normal" fill="#151515" textLength="32.5" lengthAdjust="spacing" stroke="#151515" stroke-width="0.5">j&#215;B</text>
<line x1="598.0" y1="834.0" x2="612.0" y2="834.0" stroke="#151515" stroke-width="1.3" stroke-linecap="round"/>
<path d="M608,831 L612,834 L608,837" stroke="#151515" stroke-width="1.3" fill="none" stroke-linecap="round" stroke-linejoin="round" />
<line x1="621.0" y1="834.0" x2="637.0" y2="834.0" stroke="#151515" stroke-width="1.3" stroke-linecap="round"/>
<path d="M633,831 L637,834 L633,837" stroke="#151515" stroke-width="1.3" fill="none" stroke-linecap="round" stroke-linejoin="round" />
<rect x="448" y="893.5" width="106.2" height="7.0" fill="#fff" stroke="#151515" stroke-width="2"/>
<path d="M450.0,896.6H451.2M452.5,896.7H455.6M456.5,897.2H458.5M459.7,897.5H460.9M461.8,897.1H463.3M464.2,897.2H466.1M466.7,896.7H468.7M469.3,896.4H471.5M472.8,897.1H475.5M476.5,897.5H478.8M479.7,896.9H481.1M482.4,896.8H484.4M485.0,897.6H486.2M487.4,896.8H489.9M490.8,896.7H492.2M493.3,897.0H494.4M495.4,896.7H496.5M497.6,896.7H500.7M501.5,897.0H503.4M504.3,897.1H506.3M507.7,896.6H510.2M510.8,897.2H513.4M514.6,896.7H516.0M517.1,896.8H518.5M519.7,896.5H521.8M523.0,896.5H525.8M526.7,896.4H527.8M529.1,897.0H531.8M532.4,896.6H533.9M534.4,896.8H536.3M537.4,896.5H539.3M540.6,896.4H541.6M542.8,896.7H544.8M546.2,897.4H547.2M548.5,897.0H551.4" stroke="#1a1a1a" stroke-width="4.4" fill="none"/>
<path d="M486.8,901.0 L486.8,914.0 L478.2,914.0 L489.6,927.6 L497.6,914.5 L490.2,914.5 L490.2,901.0" fill="#fff" stroke="#151515" stroke-width="1.8" stroke-linejoin="round" stroke-linecap="round"/>
<text transform="translate(500.0,931.0) scale(1.158,1)" font-size="17" font-family="Liberation Sans" font-style="italic" font-weight="normal" fill="#151515" stroke="#151515" stroke-width="0.5">j&#215;B</text>
<line x1="502.0" y1="912.0" x2="516.0" y2="912.0" stroke="#151515" stroke-width="1.3" stroke-linecap="round"/>
<path d="M512,909 L516,912 L512,915" stroke="#151515" stroke-width="1.3" fill="none" stroke-linecap="round" stroke-linejoin="round" />
<line x1="518.0" y1="912.0" x2="530.0" y2="912.0" stroke="#151515" stroke-width="1.3" stroke-linecap="round"/>
<path d="M526,909 L530,912 L526,915" stroke="#151515" stroke-width="1.3" fill="none" stroke-linecap="round" stroke-linejoin="round" />
<line x1="432.5" y1="841.0" x2="436.0" y2="810.0" stroke="#151515" stroke-width="1.2" stroke-linecap="round"/>
<path d="M433,814 L436,808 L439,814" stroke="#151515" stroke-width="1.2" fill="none" stroke-linecap="round" stroke-linejoin="round" />
<line x1="440.5" y1="796.0" x2="447.5" y2="796.0" stroke="#151515" stroke-width="1.8" stroke-linecap="round"/>
<line x1="440.5" y1="808.0" x2="447.5" y2="808.0" stroke="#151515" stroke-width="1.8" stroke-linecap="round"/>
<line x1="440.5" y1="821.3" x2="447.5" y2="821.3" stroke="#151515" stroke-width="1.8" stroke-linecap="round"/>
<line x1="440.5" y1="834.3" x2="447.5" y2="834.3" stroke="#151515" stroke-width="1.8" stroke-linecap="round"/>
<line x1="440.5" y1="846.0" x2="447.5" y2="846.0" stroke="#151515" stroke-width="1.8" stroke-linecap="round"/>
<line x1="440.5" y1="860.0" x2="447.5" y2="860.0" stroke="#151515" stroke-width="1.8" stroke-linecap="round"/>
<line x1="440.5" y1="875.0" x2="447.5" y2="875.0" stroke="#151515" stroke-width="1.8" stroke-linecap="round"/>
<line x1="440.5" y1="885.0" x2="447.5" y2="885.0" stroke="#151515" stroke-width="1.8" stroke-linecap="round"/>
<line x1="463.5" y1="800.0" x2="468.5" y2="800.0" stroke="#151515" stroke-width="1.6" stroke-linecap="round"/>
<line x1="475.5" y1="797.0" x2="480.5" y2="797.0" stroke="#151515" stroke-width="1.6" stroke-linecap="round"/>
<line x1="493.5" y1="796.0" x2="498.5" y2="796.0" stroke="#151515" stroke-width="1.6" stroke-linecap="round"/>
<line x1="517.5" y1="797.0" x2="522.5" y2="797.0" stroke="#151515" stroke-width="1.6" stroke-linecap="round"/>
<line x1="531.5" y1="798.0" x2="536.5" y2="798.0" stroke="#151515" stroke-width="1.6" stroke-linecap="round"/>
<line x1="537.5" y1="806.0" x2="542.5" y2="806.0" stroke="#151515" stroke-width="1.6" stroke-linecap="round"/>
<line x1="463.5" y1="883.0" x2="468.5" y2="883.0" stroke="#151515" stroke-width="1.6" stroke-linecap="round"/>
<line x1="475.5" y1="884.0" x2="480.5" y2="884.0" stroke="#151515" stroke-width="1.6" stroke-linecap="round"/>
<line x1="507.5" y1="884.0" x2="512.5" y2="884.0" stroke="#151515" stroke-width="1.6" stroke-linecap="round"/>
<line x1="529.5" y1="884.0" x2="534.5" y2="884.0" stroke="#151515" stroke-width="1.6" stroke-linecap="round"/>
<line x1="540.5" y1="815.0" x2="545.5" y2="815.0" stroke="#151515" stroke-width="1.6" stroke-linecap="round"/>
<line x1="540.5" y1="832.0" x2="545.5" y2="832.0" stroke="#151515" stroke-width="1.6" stroke-linecap="round"/>
<line x1="540.5" y1="846.0" x2="545.5" y2="846.0" stroke="#151515" stroke-width="1.6" stroke-linecap="round"/>
<line x1="538.5" y1="862.0" x2="543.5" y2="862.0" stroke="#151515" stroke-width="1.6" stroke-linecap="round"/>
<line x1="538.5" y1="875.0" x2="543.5" y2="875.0" stroke="#151515" stroke-width="1.6" stroke-linecap="round"/>
<text transform="translate(472.4,812.0) scale(1.120,1)" font-size="11" font-family="Liberation Sans" font-style="italic" font-weight="normal" fill="#151515" stroke="#151515" stroke-width="0.5">E</text>
<text transform="translate(525.4,815.0) scale(1.120,1)" font-size="11" font-family="Liberation Sans" font-style="italic" font-weight="normal" fill="#151515" stroke="#151515" stroke-width="0.5">E</text>
<text transform="translate(462.4,867.0) scale(1.120,1)" font-size="11" font-family="Liberation Sans" font-style="italic" font-weight="normal" fill="#151515" stroke="#151515" stroke-width="0.5">E</text>
<path d="M475.6,840 C476,825 481,815 492,812 L500,812" stroke="#151515" stroke-width="1.6" fill="none" stroke-linecap="round" stroke-linejoin="round" />
<path d="M506.5,813 C513,813 519,816 521,820 C526,828 528,840 525,848 L522.3,855.7" stroke="#151515" stroke-width="1.6" fill="none" stroke-linecap="round" stroke-linejoin="round" />
<path d="M482.7,852.5 C486,858 492,863 500,864 L509.6,864.4" stroke="#151515" stroke-width="1.6" fill="none" stroke-linecap="round" stroke-linejoin="round" />
<path d="M493.8,813.0 L501.1,810.7 L500.5,816.7 Z" fill="none" stroke="#151515" stroke-width="1.4" stroke-linejoin="round"/>
<path d="M521.0,823.0 L516.1,817.2 L521.9,815.4 Z" fill="none" stroke="#151515" stroke-width="1.4" stroke-linejoin="round"/>
<path d="M522.3,853.0 L521.4,845.4 L527.2,847.2 Z" fill="none" stroke="#151515" stroke-width="1.4" stroke-linejoin="round"/>
<path d="M483.5,854.0 L488.9,859.4 L483.3,861.6 Z" fill="none" stroke="#151515" stroke-width="1.4" stroke-linejoin="round"/>
<line x1="495.4" y1="824.0" x2="492.2" y2="851.0" stroke="#151515" stroke-width="1.5" stroke-linecap="round"/>
<line x1="503.3" y1="824.0" x2="501.0" y2="855.0" stroke="#151515" stroke-width="1.5" stroke-linecap="round"/>
<line x1="512.0" y1="820.0" x2="508.0" y2="855.0" stroke="#151515" stroke-width="1.5" stroke-linecap="round"/>
<line x1="489.0" y1="828.8" x2="500.0" y2="828.8" stroke="#151515" stroke-width="1.5" stroke-linecap="round"/>
<line x1="495.0" y1="836.0" x2="515.0" y2="836.0" stroke="#151515" stroke-width="1.5" stroke-linecap="round"/>
<line x1="500.0" y1="840.5" x2="512.0" y2="840.5" stroke="#151515" stroke-width="1.5" stroke-linecap="round"/>
<line x1="487.0" y1="847.8" x2="500.0" y2="847.8" stroke="#151515" stroke-width="1.5" stroke-linecap="round"/>
<line x1="500.0" y1="851.0" x2="515.0" y2="851.0" stroke="#151515" stroke-width="1.5" stroke-linecap="round"/>
<line x1="490.0" y1="822.0" x2="468.0" y2="803.0" stroke="#151515" stroke-width="1.6" stroke-linecap="round"/>
<path d="M468.0,803.0 L475.3,805.3 L471.3,809.8 Z" fill="#151515" stroke="#151515" stroke-width="1" stroke-linejoin="round"/>
<line x1="500.0" y1="820.0" x2="500.0" y2="803.0" stroke="#151515" stroke-width="1.6" stroke-linecap="round"/>
<path d="M500.0,803.0 L502.5,810.0 L497.5,810.0 Z" fill="#151515" stroke="#151515" stroke-width="1" stroke-linejoin="round"/>
<line x1="508.0" y1="820.0" x2="520.0" y2="803.0" stroke="#151515" stroke-width="1.6" stroke-linecap="round"/>
<path d="M520.0,803.0 L518.0,810.2 L513.9,807.3 Z" fill="#151515" stroke="#151515" stroke-width="1" stroke-linejoin="round"/>
<line x1="530.0" y1="828.0" x2="541.0" y2="820.0" stroke="#151515" stroke-width="1.6" stroke-linecap="round"/>
<path d="M541.0,820.0 L537.1,826.5 L533.6,821.7 Z" fill="#151515" stroke="#151515" stroke-width="1" stroke-linejoin="round"/>
<line x1="518.0" y1="838.0" x2="540.0" y2="838.0" stroke="#151515" stroke-width="1.6" stroke-linecap="round"/>
<path d="M540.0,838.0 L533.0,840.5 L533.0,835.5 Z" fill="#151515" stroke="#151515" stroke-width="1" stroke-linejoin="round"/>
<line x1="520.0" y1="846.0" x2="543.0" y2="853.0" stroke="#151515" stroke-width="1.6" stroke-linecap="round"/>
<path d="M543.0,853.0 L535.6,853.4 L537.0,848.6 Z" fill="#151515" stroke="#151515" stroke-width="1" stroke-linejoin="round"/>
<line x1="514.0" y1="858.0" x2="531.0" y2="876.0" stroke="#151515" stroke-width="1.6" stroke-linecap="round"/>
<path d="M531.0,876.0 L524.0,873.0 L528.4,868.9 Z" fill="#151515" stroke="#151515" stroke-width="1" stroke-linejoin="round"/>
<line x1="506.0" y1="856.0" x2="507.0" y2="879.0" stroke="#151515" stroke-width="1.6" stroke-linecap="round"/>
<path d="M507.0,879.0 L504.2,872.1 L509.2,871.9 Z" fill="#151515" stroke="#151515" stroke-width="1" stroke-linejoin="round"/>
<line x1="496.0" y1="858.0" x2="490.0" y2="877.0" stroke="#151515" stroke-width="1.6" stroke-linecap="round"/>
<path d="M490.0,877.0 L489.7,869.6 L494.5,871.1 Z" fill="#151515" stroke="#151515" stroke-width="1" stroke-linejoin="round"/>
<line x1="488.0" y1="855.0" x2="470.0" y2="878.0" stroke="#151515" stroke-width="1.6" stroke-linecap="round"/>
<path d="M470.0,878.0 L472.4,868.4 L478.7,873.4 Z" fill="#151515" stroke="#151515" stroke-width="1" stroke-linejoin="round"/>
<line x1="484.0" y1="845.0" x2="458.0" y2="853.0" stroke="#151515" stroke-width="1.6" stroke-linecap="round"/>
<path d="M458.0,853.0 L465.6,847.0 L467.6,853.7 Z" fill="#151515" stroke="#151515" stroke-width="1" stroke-linejoin="round"/>
<line x1="460.0" y1="829.0" x2="485.0" y2="829.0" stroke="#151515" stroke-width="2.4" stroke-linecap="round"/>
<text transform="translate(139.7,960.0) scale(0.807,1)" font-size="19" font-family="Liberation Sans" font-style="italic" font-weight="normal" fill="#151515" stroke="#151515" stroke-width="0.45">For</text>
<text transform="translate(174.6,960.0) scale(0.783,1)" font-size="19" font-family="Liberation Sans" font-style="italic" font-weight="normal" fill="#151515" stroke="#151515" stroke-width="0.45">Te</text>
<text transform="translate(200.3,960.0) scale(0.820,1)" font-size="19" font-family="Liberation Sans" font-style="italic" font-weight="normal" fill="#151515" stroke="#151515" stroke-width="0.45">&gt;</text>
<text transform="translate(215.0,960.0) scale(1.120,1)" font-size="19" font-family="Liberation Sans" font-style="italic" font-weight="normal" fill="#151515" stroke="#151515" stroke-width="0.45">0</text>
<text transform="translate(239.0,960.0) scale(0.947,1)" font-size="19" font-family="Liberation Sans" font-style="italic" font-weight="normal" fill="#151515" stroke="#151515" stroke-width="0.45">,</text>
<text transform="translate(256.6,960.0) scale(0.719,1)" font-size="19" font-family="Liberation Sans" font-style="italic" font-weight="normal" fill="#151515" stroke="#151515" stroke-width="0.45">the</text>
<text transform="translate(291.4,960.0) scale(0.899,1)" font-size="19" font-family="Liberation Sans" font-style="italic" font-weight="normal" fill="#151515" stroke="#151515" stroke-width="0.45">magnetosonic</text>
<text transform="translate(405.3,960.0) scale(0.916,1)" font-size="19" font-family="Liberation Sans" font-style="italic" font-weight="normal" fill="#151515" stroke="#151515" stroke-width="0.45">&#231;</text>
<text transform="translate(420.5,960.0) scale(1.092,1)" font-size="19" font-family="Liberation Sans" font-style="italic" font-weight="normal" fill="#151515" stroke="#151515" stroke-width="0.45">thus</text>
<text transform="translate(468.6,960.0) scale(0.870,1)" font-size="19" font-family="Liberation Sans" font-style="italic" font-weight="normal" fill="#151515" stroke="#151515" stroke-width="0.45">shock</text>
<text transform="translate(525.7,960.0) scale(0.960,1)" font-size="19" font-family="Liberation Sans" font-style="italic" font-weight="normal" fill="#151515" stroke="#151515" stroke-width="0.45">velocity</text>
<text transform="translate(601.6,960.0) scale(1.020,1)" font-size="19" font-family="Liberation Sans" font-style="italic" font-weight="normal" fill="#151515" stroke="#151515" stroke-width="0.45">is</text>
<text transform="translate(622.0,960.0) scale(0.901,1)" font-size="19" font-family="Liberation Sans" font-style="italic" font-weight="normal" fill="#151515" stroke="#151515" stroke-width="0.45">&gt;</text>
<text transform="translate(642.5,960.0) scale(1.120,1)" font-size="19" font-family="Liberation Sans" font-style="italic" font-weight="normal" fill="#151515" stroke="#151515" stroke-width="0.45">a</text>
<text transform="translate(666.0,960.0) scale(0.632,1)" font-size="19" font-family="Liberation Sans" font-style="italic" font-weight="normal" fill="#151515" stroke="#151515" stroke-width="0.45">&#231;</text>
<text transform="translate(695.0,960.0) scale(0.863,1)" font-size="19" font-family="Liberation Sans" font-style="italic" font-weight="normal" fill="#151515" stroke="#151515" stroke-width="0.45">the</text>
<text transform="translate(137.6,997.0) scale(0.927,1)" font-size="19" font-family="Liberation Sans" font-style="italic" font-weight="normal" fill="#151515" stroke="#151515" stroke-width="0.45">formation</text>
<text transform="translate(228.7,997.0) scale(0.917,1)" font-size="19" font-family="Liberation Sans" font-style="italic" font-weight="normal" fill="#151515" stroke="#151515" stroke-width="0.45">time</text>
<text transform="translate(279.4,997.0) scale(0.736,1)" font-size="19" font-family="Liberation Sans" font-style="italic" font-weight="normal" fill="#151515" stroke="#151515" stroke-width="0.45">is</text>
<text transform="translate(300.0,997.0) scale(1.018,1)" font-size="19" font-family="Liberation Sans" font-style="italic" font-weight="normal" fill="#151515" stroke="#151515" stroke-width="0.45">less</text>
<text transform="translate(344.6,997.0) scale(1.060,1)" font-size="19" font-family="Liberation Sans" font-style="italic" font-weight="normal" fill="#151515" stroke="#151515" stroke-width="0.45">than</text>
<text transform="translate(399.0,997.0) scale(1.170,1)" font-size="19" font-family="Liberation Sans" font-style="italic" font-weight="normal" fill="#151515" stroke="#151515" stroke-width="0.45">At</text>
<text transform="translate(429.0,997.0) scale(1.023,1)" font-size="19" font-family="Liberation Sans" font-style="italic" font-weight="normal" fill="#151515" stroke="#151515" stroke-width="0.45">.</text>
<text transform="translate(454.7,997.0) scale(0.712,1)" font-size="19" font-family="Liberation Sans" font-style="italic" font-weight="normal" fill="#151515" stroke="#151515" stroke-width="0.45">For</text>
<text transform="translate(549.0,997.0) scale(0.758,1)" font-size="19" font-family="Liberation Sans" font-style="italic" font-weight="normal" fill="#151515" stroke="#151515" stroke-width="0.45">;</text>
<text transform="translate(563.7,997.0) scale(1.131,1)" font-size="19" font-family="Liberation Sans" font-style="italic" font-weight="normal" fill="#151515" stroke="#151515" stroke-width="0.45">At</text>
<text transform="translate(601.6,997.0) scale(0.802,1)" font-size="19" font-family="Liberation Sans" font-style="italic" font-weight="normal" fill="#151515" stroke="#151515" stroke-width="0.45">=</text>
<text transform="translate(618.0,997.0) scale(0.655,1)" font-size="19" font-family="Liberation Sans" font-style="italic" font-weight="normal" fill="#151515" stroke="#151515" stroke-width="0.45">1.78,</text>
<text transform="translate(652.9,997.0) scale(0.904,1)" font-size="19" font-family="Liberation Sans" font-style="italic" font-weight="normal" fill="#151515" stroke="#151515" stroke-width="0.45">4.,</text>
<text transform="translate(681.7,997.0) scale(0.814,1)" font-size="19" font-family="Liberation Sans" font-style="italic" font-weight="normal" fill="#151515" stroke="#151515" stroke-width="0.45">.012</text>
<text transform="translate(722.6,997.0) scale(0.863,1)" font-size="19" font-family="Liberation Sans" font-style="italic" font-weight="normal" fill="#151515" stroke="#151515" stroke-width="0.45">ms.</text>
<text transform="translate(419.4,999.0) scale(1.120,1)" font-size="12" font-family="Liberation Sans" font-style="italic" font-weight="normal" fill="#151515" stroke="#151515" stroke-width="0.4">F</text>
<text transform="translate(584.9,1000.0) scale(1.120,1)" font-size="12" font-family="Liberation Sans" font-style="italic" font-weight="normal" fill="#151515" stroke="#151515" stroke-width="0.4">F</text>
<path d="M300,999.5 C320,1001 350,998 378.7,999" stroke="#151515" stroke-width="1.8" fill="none" stroke-linecap="round" stroke-linejoin="round" />
<ellipse cx="497.9" cy="989" rx="10" ry="7.3" transform="rotate(-15 497.9 989)" stroke="#151515" stroke-width="2" fill="none"/>
<text transform="translate(494.5,993.0) scale(1.120,1)" font-size="11" font-family="Liberation Sans" font-style="normal" font-weight="bold" fill="#151515" stroke="#151515" stroke-width="0.2">2</text>
<ellipse cx="517.2" cy="988.5" rx="8.5" ry="7.6" transform="rotate(-15 517.2 988.5)" stroke="#151515" stroke-width="2" fill="none"/>
<text transform="translate(513.8,992.5) scale(1.120,1)" font-size="11" font-family="Liberation Sans" font-style="normal" font-weight="bold" fill="#151515" stroke="#151515" stroke-width="0.2">3</text>
<ellipse cx="537" cy="988.7" rx="10" ry="8" transform="rotate(-15 537 988.7)" stroke="#151515" stroke-width="2" fill="none"/>
<text transform="translate(533.6,992.7) scale(1.120,1)" font-size="11" font-family="Liberation Sans" font-style="normal" font-weight="bold" fill="#151515" stroke="#151515" stroke-width="0.2">4</text>
</svg></body></html>
